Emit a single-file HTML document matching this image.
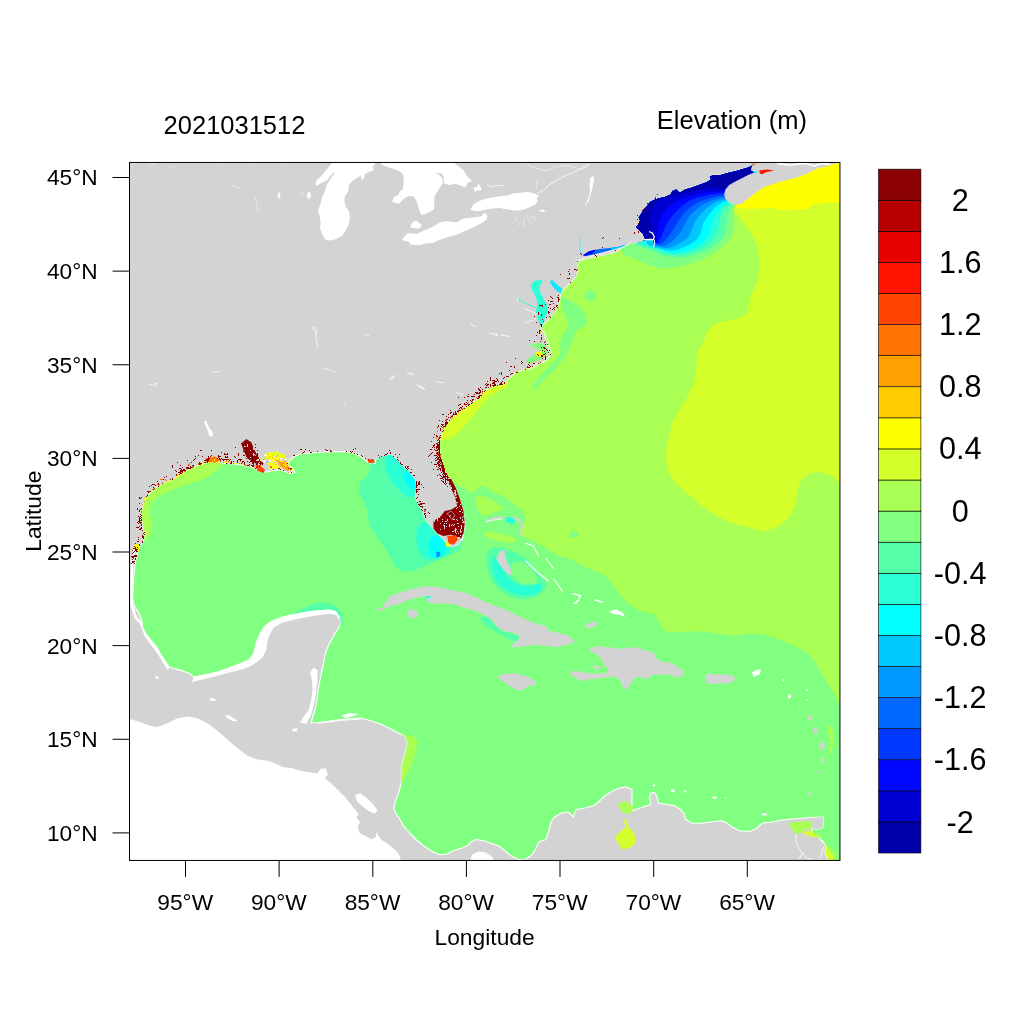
<!DOCTYPE html>
<html><head><meta charset="utf-8"><title>Elevation (m) 2021031512</title>
<style>
html,body{margin:0;padding:0;background:#fff;}
svg{display:block;will-change:transform;}
text{font-family:"Liberation Sans",Arial,Helvetica,sans-serif;fill:#000;}
</style></head>
<body>
<svg width="1024" height="1024" viewBox="0 0 1024 1024">
<rect width="1024" height="1024" fill="#fff"/>
<defs>
<clipPath id="plot"><rect x="129.5" y="162.45" width="710.45" height="698.0"/></clipPath>
<clipPath id="oc"><path d="M138.75,547.25 L143.75,541 L145,533.5 L142.5,523.5 L141.25,513.5 L143.75,503.5 L147.5,496 L153.75,489.75 L161.25,484.75 L170,481 L178.75,476.5 L186.25,471 L195,466.5 L205,463.5 L215,462.25 L225,463.5 L235,464 L245,465.5 L252.5,467.25 L258.75,471 L265,472.25 L270,471 L280,469.75 L290,473.5 L295,472.25 L292.5,468.5 L287.5,464.75 L290,459.75 L295,456 L300,454 L310,453 L320,452.25 L330,451.75 L340,451.5 L350,452.25 L357.5,454.75 L363.75,458.5 L367.5,462.25 L376,464 L376,459.75 L383.5,456 L391,454.75 L398.5,461 L403.5,467.25 L409.75,472.25 L414.75,479.75 L416,488.5 L414.75,496 L417.25,503.5 L422.25,511 L424.75,518.5 L428.5,523.5 L432.25,528.5 L436,533.5 L441,537.25 L446,543.5 L451,547.25 L458.5,544.75 L462.25,539.75 L463.5,533.5 L464.75,523.5 L463.5,513.5 L461,503.5 L457.25,493.5 L453.5,486 L451.88,485 L448.75,477.5 L445,470 L442.5,462.5 L440.62,455 L440,447.5 L440.25,440 L441.88,433.75 L445,427.5 L448.75,421.88 L453.75,416.88 L460,411.88 L466.25,407.5 L472.5,403.12 L478.75,398.75 L482.5,394.38 L486.25,390 L492.5,386.88 L500,385 L505,384.38 L506.25,381.88 L510,377.5 L516.25,373.12 L522.5,370.62 L528.75,368.75 L533.75,366.25 L540,363.12 L545,361.25 L551,355 L548.5,347.5 L546,340 L543.5,331.25 L541,327.5 L548.5,320 L556,311.25 L559.75,302.5 L561,293.75 L564.75,288.75 L569.75,283.75 L576,277.5 L578.5,270 L577.25,262.5 L583.5,260 L593.5,257.5 L606,255 L616,252.5 L626,245 L625,245.45 L633.2,243.68 L640.04,242.31 L645.51,239.98 L642.77,233.83 L638.67,229.73 L635.94,226.99 L638.67,224.26 L640.04,220.16 L638.67,217.42 L641.41,213.32 L644.14,209.22 L647.56,205.12 L650.29,201.7 L654.4,199.65 L659.18,198.28 L664.65,196.92 L670.12,194.86 L672.85,190.76 L676.27,189.4 L679.69,192.81 L685.16,189.4 L690.63,188.03 L696.1,185.98 L701.57,183.93 L707.03,181.88 L711.14,179.14 L709.77,176.41 L713.87,175.04 L720.71,175.04 L727.54,172.99 L734.38,171.62 L741.22,169.57 L748.05,167.52 L752.15,165.47 L755.57,160 L842.95,159.45 L842.95,863.45 L828,864 L827.8,858.8 L825.1,852.9 L825.9,845.9 L822.3,840.8 L823.25,842 L818.25,837 L812,832 L812,828.25 L817,829.5 L823.25,827 L823.25,817 L812,817.5 L802,818.25 L792,819 L782,820 L772,822 L762,823.25 L757,828.25 L749.5,831.5 L739.5,830.75 L732,827 L727,823.25 L722,820.75 L714.5,821.5 L702,823.25 L692,823.25 L685.75,819.5 L684.5,814.5 L680.75,809.5 L674.5,805.75 L667,804.5 L658.25,803.25 L657,797 L654.5,792.5 L650.75,793.25 L649.5,797 L650.75,804.5 L647,805.75 L639.5,808.25 L632,810.75 L632,789.5 L626,787 L618.5,788.25 L611,792 L603.5,797 L598.5,802 L593.5,805.75 L583.5,808.25 L576,809.5 L573.5,817 L568.5,812 L561,813.25 L554.75,817 L551,822 L548.5,832 L546,839.5 L538.5,842 L536,848.25 L532.25,854.5 L526,859 L518.5,859.5 L511,855.75 L504.75,850.75 L498.5,845.75 L491,843.25 L483.5,840.75 L476,839.5 L471,842 L467.25,845.75 L461,848.25 L453.5,850.75 L446,854.5 L438.5,854.5 L431,850.75 L423.5,845.75 L416,839.5 L409.75,833.25 L403.5,825.75 L398.5,817 L397.5,816.25 L393.75,808.75 L395,802.5 L398.75,792.5 L401.25,782.5 L401.25,772.5 L402.5,762.5 L405.5,752.5 L407.5,742.5 L405,736.25 L397.5,732.5 L390,728.75 L380,723.75 L370,720.5 L360,718 L350,718.75 L340,719.5 L327.5,721.25 L317.5,722.5 L311.25,723 L312.5,717.5 L315,710 L317,700 L318,690 L320,680 L322,670 L323.75,662.5 L325,655 L327.5,647.5 L331.25,640 L335,633.75 L338.75,627.5 L341.25,622.5 L340,617.5 L336.25,611.25 L330,609.5 L320,610 L307.5,611.25 L295,613.75 L282.5,617 L271.25,621.25 L263.75,627.5 L258.75,636.25 L255.5,645 L253.75,653.75 L248.75,660 L240,663.75 L230,667.5 L220,671.25 L210,673.75 L200,675.75 L193.7,677.1 L189.4,673.2 L183,671.1 L175.5,668.9 L169,666.8 L164.7,660.3 L160.4,653.9 L157.2,647.5 L151.8,641 L146.5,634.6 L142.6,628.1 L141.7,619.5 L139,613.1 L134.7,606.7 L132.7,598.1 L133.2,587.3 L134,574.5 L135.3,561.6 L137.9,550.8Z"/></clipPath>
</defs>
<rect x="129.5" y="162.45" width="710.45" height="698.0" fill="#D3D3D3"/>
<g clip-path="url(#plot)">
<g id="water-bg">
<path d="M127.5,718.25 L140,722 L150,725.75 L157.5,727 L167.5,723.25 L177.5,718.25 L187.5,716.5 L197.5,718.25 L207.5,723.25 L217.5,730.75 L227.5,739.5 L237.5,748.25 L247.5,755.75 L257.5,759.5 L267.5,760.75 L275,763.25 L282.5,767 L292.5,768.25 L300,770.75 L307.5,772 L317.5,773.25 L320,769.5 L325,769.5 L327.5,774.5 L325,778.25 L332.5,784.5 L340,792 L345,797 L350,803.25 L355,809.5 L358.75,814.5 L356.25,817 L360,822 L357.5,827 L360,833.25 L367.5,837 L371.25,839.5 L376,837 L376,832 L381,839.5 L388.5,844.5 L396,850.75 L399.75,855.75 L401,862 L126.5,863.45Z" fill="#FFFFFF" />
<path d="M469.75,861.5 L472.25,854.5 L478.5,851.5 L486,852.5 L492.25,857 L494.75,861.5Z" fill="#FFFFFF" />
<path d="M355,795 L360,793.25 L366.25,797.5 L372.5,803.75 L377.5,810 L375,813.75 L368.75,811.25 L362.5,806.25 L357,801.25Z" fill="#FFFFFF" />
<path d="M225,714.5 L230,715.75 L237.5,720.75 L233.75,721.5 L227.5,718.25Z" fill="#FFFFFF" />
<path d="M208.75,698.75 L213.75,698 L216.25,700.75 L211.25,701Z" fill="#FFFFFF" />
<path d="M292.5,729 L297,728 L297.5,731 L293,732Z" fill="#FFFFFF" />
<path d="M155,675.75 L158,676.5 L158.75,679.5 L155.75,678.5Z" fill="#FFFFFF" />
<path d="M320,769 L325.5,768.25 L328,774.5 L324.5,777 L321.25,773.25Z" fill="#FFFFFF" />
<path d="M333.44,161.25 L328.75,167.03 L324.84,171.72 L320.94,176.41 L317.03,179.53 L315.47,184.22 L317.03,185.78 L321.72,182.66 L327.19,180.31 L328.75,177.97 L331.88,174.06 L335,171.72 L333.44,174.84 L329.53,180.31 L326.41,185.78 L324.84,191.25 L322.5,195.94 L320.94,202.19 L319.38,206.88 L317.81,210.78 L319.69,216.25 L320.62,222.5 L320.16,228.75 L322.5,235 L325.62,239.69 L330.31,240.47 L336.56,238.91 L342.03,235.78 L345.94,230.31 L349.06,224.06 L349.84,217.81 L349.06,211.56 L345.94,206.88 L344.38,202.19 L344.69,196.72 L348.28,191.25 L349.06,185 L352.19,181.09 L356.88,177.97 L360.78,175.62 L361.56,179.53 L363.91,178.75 L364.69,174.06 L369.38,171.72 L374.06,170.16 L372.5,167.03 L374.84,163.91 L378.75,161.25Z" fill="#FFFFFF" />
<path d="M378.75,161.25 L383.44,165.47 L389.69,167.81 L397.5,170.16 L402.19,173.28 L403.75,176.41 L403.44,183.44 L402.97,188.91 L399.84,191.25 L398.28,195.16 L394.38,196.72 L392.03,201.41 L395.16,202.97 L399.06,203.44 L402.19,200.62 L405.31,197.5 L410,195.94 L413.91,196.72 L416.25,200.62 L417.81,205.31 L419.38,210.78 L421.25,215 L425.62,213.91 L430.31,211.56 L434.22,209.22 L434.22,203.75 L434.22,197.5 L436.56,192.81 L439.69,188.12 L442.81,183.44 L442.03,177.97 L438.12,174.06 L435,172.5 L441.25,173.28 L444.38,177.19 L447.5,180.31 L449.06,185 L453.75,183.44 L460,185 L464.69,187.34 L466.25,183.44 L471.88,181.09 L470,178.75 L466.25,175.62 L463.91,170.94 L460,167.81 L456.09,164.69 L453.75,161.25Z" fill="#FFFFFF" />
<path d="M450,161.25 L454.69,163.91 L459.38,167.03 L464.06,170.94 L466.41,175.62 L468.75,178.75 L471.88,181.09 L467.97,181.88 L465.62,187.34 L459.38,185 L454.69,183.44 L450,185 L443.75,183.44 L443.75,161.25Z" fill="#FFFFFF" />
<path d="M413.12,221.72 L416.25,220.62 L419.38,223.28 L421.72,224.84 L420.16,227.97 L417.81,228.44 L413.12,227.97 L410,227.19 L411.56,224.06Z" fill="#FFFFFF" />
<path d="M473.44,188.12 L477.34,186.56 L478.91,182.66 L479.69,186.56 L482.03,188.12 L480.47,190.47 L476.56,190.47 L475,192.03Z" fill="#FFFFFF" />
<path d="M402.19,238.91 L406.09,235 L408.44,232.66 L410,233.44 L417.81,233.44 L422.5,231.09 L428.75,228.75 L435,225.62 L439.69,222.5 L445.94,221.25 L456.88,222.19 L463.12,218.59 L470,218.12 L470,218.12 L476.56,217.03 L481.25,216.25 L483.59,213.12 L486.72,213.91 L487.5,217.03 L485.94,220.16 L481.25,223.28 L475,226.41 L468.75,229.53 L462.5,231.88 L456.25,234.69 L450,236.56 L447.5,237.34 L439.69,239.69 L433.44,242.81 L425.62,243.59 L419.38,245.16 L410,244.38 L409.22,242.03 L403.75,240.47Z" fill="#FFFFFF" />
<path d="M470.31,209.22 L473.44,204.53 L478.12,201.41 L484.38,199.06 L492.19,197.5 L500,196.25 L507.81,195.62 L512.5,193.59 L520.31,192.81 L528.12,192.03 L534.38,193.59 L539.06,195.94 L536.72,198.28 L537.5,201.41 L535.16,204.53 L529.69,206.88 L525,209.22 L518.75,210.78 L512.5,210.31 L506.25,209.22 L500,208.12 L492.19,208.44 L484.38,210 L478.12,211.25 L473.44,210.78Z" fill="#FFFFFF" />
<path d="M537.5,193.59 L543.75,189.69 L550,184.22 L557.81,179.53 L565.62,175.62 L573.44,172.5 L579.69,169.38 L585.94,167.03 L589.06,164.38" fill="none" stroke="#FFFFFF" stroke-width="0.8" stroke-linecap="round" stroke-linejoin="round" />
<path d="M526.56,163.12 L531.25,167.03 L537.5,168.59 L545.31,170.62 L551.56,168.59 L559.38,166.25 L565.62,165.47 L573.44,167.03 L579.69,169.38 L584.38,165.47 L589.06,164.38" fill="none" stroke="#FFFFFF" stroke-width="0.55" stroke-linecap="round" stroke-linejoin="round" />
<path d="M590.62,177.5 L594.06,176.25 L593.44,183.44 L591.88,189.69 L590.31,195.62 L588.75,200.94 L584.38,206.56 L587.5,200.62 L589.38,195.16 L590,188.91 L589.53,183.44Z" fill="#FFFFFF" />
<path d="M539.06,210 L542.97,209.69 L546.09,211.25 L542.19,211.88Z" fill="#FFFFFF" />
<path d="M516.41,217.81 L515.31,221.25" fill="none" stroke="#FFFFFF" stroke-width="0.45" stroke-linecap="round" stroke-linejoin="round" />
<path d="M520.31,221.72 L518.44,225.62" fill="none" stroke="#FFFFFF" stroke-width="0.45" stroke-linecap="round" stroke-linejoin="round" />
<path d="M523.44,218.12 L524.38,225.94" fill="none" stroke="#FFFFFF" stroke-width="0.45" stroke-linecap="round" stroke-linejoin="round" />
<path d="M526.88,216.56 L531.25,224.84" fill="none" stroke="#FFFFFF" stroke-width="0.45" stroke-linecap="round" stroke-linejoin="round" />
<path d="M531.25,216.25 L532.81,219.06" fill="none" stroke="#FFFFFF" stroke-width="0.45" stroke-linecap="round" stroke-linejoin="round" />
<path d="M533.59,216.25 L535.94,219.06" fill="none" stroke="#FFFFFF" stroke-width="0.45" stroke-linecap="round" stroke-linejoin="round" />
<path d="M487.5,185 L492.19,186.88 L496.88,185.31 L503.12,185.78" fill="none" stroke="#FFFFFF" stroke-width="0.7" stroke-linecap="round" stroke-linejoin="round" />
<path d="M535.16,183.44 L538.28,181.09 L535.94,185 L536.72,188.12" fill="none" stroke="#FFFFFF" stroke-width="0.5" stroke-linecap="round" stroke-linejoin="round" />
<path d="M311.25,327.5 L315,330 L316.25,338.75 L317.5,346.25" fill="none" stroke="#FFFFFF" stroke-width="0.7" stroke-linecap="round" stroke-linejoin="round" />
<path d="M312.5,327 L317.5,328.75 L316.25,335" fill="none" stroke="#FFFFFF" stroke-width="0.5" stroke-linecap="round" stroke-linejoin="round" />
<path d="M322.5,368.25 L330,369.5 L336.25,372.5" fill="none" stroke="#FFFFFF" stroke-width="0.6" stroke-linecap="round" stroke-linejoin="round" />
<path d="M231.25,185 L236.25,186.5 L239.5,188.5" fill="none" stroke="#FFFFFF" stroke-width="0.5" stroke-linecap="round" stroke-linejoin="round" />
<path d="M255,197.5 L257,205 L258,212.5" fill="none" stroke="#FFFFFF" stroke-width="0.45" stroke-linecap="round" stroke-linejoin="round" />
<path d="M213,372 L218.75,371.5" fill="none" stroke="#FFFFFF" stroke-width="0.8" stroke-linecap="round" stroke-linejoin="round" />
<path d="M148.75,383.75 L152.5,385.5 L156.25,383 L156.25,386.25" fill="none" stroke="#FFFFFF" stroke-width="0.8" stroke-linecap="round" stroke-linejoin="round" />
<path d="M365,334.5 L368.75,335.5" fill="none" stroke="#FFFFFF" stroke-width="0.8" stroke-linecap="round" stroke-linejoin="round" />
<path d="M278,193 L280,198" fill="none" stroke="#FFFFFF" stroke-width="0.7" stroke-linecap="round" stroke-linejoin="round" />
<path d="M348.75,392 L350,390.5" fill="none" stroke="#FFFFFF" stroke-width="0.5" stroke-linecap="round" stroke-linejoin="round" />
<path d="M344.25,401.25 L345.5,405" fill="none" stroke="#FFFFFF" stroke-width="0.5" stroke-linecap="round" stroke-linejoin="round" />
<path d="M307,193 L310,192 L311.25,196.25 L308.75,199.5 L307,197Z" fill="#FFFFFF" />
<path d="M470.5,324 L476,327" fill="none" stroke="#FFFFFF" stroke-width="0.8" stroke-linecap="round" stroke-linejoin="round" />
<path d="M489.75,333 L497.25,335.5 L496,333" fill="none" stroke="#FFFFFF" stroke-width="0.9" stroke-linecap="round" stroke-linejoin="round" />
<path d="M501,335 L509.75,336.5" fill="none" stroke="#FFFFFF" stroke-width="0.8" stroke-linecap="round" stroke-linejoin="round" />
<path d="M389.75,378.75 L394.75,375.5 L391.5,380" fill="none" stroke="#FFFFFF" stroke-width="0.9" stroke-linecap="round" stroke-linejoin="round" />
<path d="M407.25,373 L413.5,375 L411,372.5" fill="none" stroke="#FFFFFF" stroke-width="0.8" stroke-linecap="round" stroke-linejoin="round" />
<path d="M417.25,384.5 L424.75,389.5 L418.5,386.25" fill="none" stroke="#FFFFFF" stroke-width="0.9" stroke-linecap="round" stroke-linejoin="round" />
<path d="M437.25,382 L443.5,382.75" fill="none" stroke="#FFFFFF" stroke-width="0.8" stroke-linecap="round" stroke-linejoin="round" />
<path d="M456,392.5 L463.5,394.5" fill="none" stroke="#FFFFFF" stroke-width="0.7" stroke-linecap="round" stroke-linejoin="round" />
<path d="M203.75,421.5 L206.25,421 L209.5,428.5 L212.5,431.5 L213,436.5 L209,436 L208,431Z" fill="#FFFFFF" />
<rect x="139.74" y="169.81" width="0.78" height="0.78" fill="#fff" opacity="0.8"/>
<rect x="143.65" y="178.60" width="0.78" height="0.59" fill="#fff" opacity="0.8"/>
<rect x="141.70" y="189.34" width="0.98" height="0.78" fill="#fff" opacity="0.8"/>
<rect x="146.58" y="185.05" width="0.78" height="0.78" fill="#fff" opacity="0.8"/>
<rect x="173.92" y="166.88" width="1.17" height="0.59" fill="#fff" opacity="0.8"/>
<rect x="187.59" y="172.74" width="0.78" height="0.78" fill="#fff" opacity="0.8"/>
<rect x="199.31" y="190.32" width="1.17" height="0.98" fill="#fff" opacity="0.8"/>
<rect x="180.76" y="201.06" width="0.98" height="0.59" fill="#fff" opacity="0.8"/>
<rect x="182.71" y="207.90" width="0.59" height="0.98" fill="#fff" opacity="0.8"/>
<rect x="212.98" y="178.60" width="0.78" height="0.78" fill="#fff" opacity="0.8"/>
<rect x="257.91" y="172.74" width="1.17" height="0.98" fill="#fff" opacity="0.8"/>
<rect x="281.34" y="163.95" width="1.56" height="0.78" fill="#fff" opacity="0.8"/>
<rect x="296.97" y="200.09" width="1.56" height="0.59" fill="#fff" opacity="0.8"/>
<rect x="290.13" y="212.78" width="1.37" height="0.98" fill="#fff" opacity="0.8"/>
<rect x="298.92" y="217.66" width="0.98" height="0.78" fill="#fff" opacity="0.8"/>
<rect x="306.73" y="223.52" width="0.98" height="0.59" fill="#fff" opacity="0.8"/>
<rect x="313.57" y="226.45" width="0.98" height="0.59" fill="#fff" opacity="0.8"/>
<rect x="221.77" y="164.34" width="0.78" height="0.59" fill="#fff" opacity="0.8"/>
<rect x="249.12" y="166.30" width="0.78" height="0.59" fill="#fff" opacity="0.8"/>
<path d="M150.48,165.52 L154.78,163.17" fill="none" stroke="#FFFFFF" stroke-width="0.5" stroke-linecap="round" stroke-linejoin="round" />
<path d="M278.41,193.25 L280.37,192.27 L279.78,195.59 L280.56,198.72 L278.61,198.33 L277.83,195.59Z" fill="#FFFFFF" />
<path d="M299.31,193.25 L303.8,193.64 L305.76,195.59" fill="none" stroke="#FFFFFF" stroke-width="0.4" stroke-linecap="round" stroke-linejoin="round" />
<path d="M200,675.75 L210,673.75 L220,671.25 L230,667.5 L240,663.75 L248.75,660 L253.75,653.75 L255.5,645 L258.75,636.25 L263.75,627.5 L271.25,621.25 L282.5,617 L295,613.75 L307.5,611.25 L320,610 L330,609.5 L336.25,611.25 L340,617.5 L338.75,620 L336.25,615 L330,613.75 L320,615 L307.5,617 L295,619.5 L282.5,622.5 L273.75,627.5 L270,633.75 L267.5,641.25 L266.25,650 L262.5,657.5 L256.25,662.5 L250,666.25 L243.75,668.75 L237.5,670.5 L225,673.75 L212.5,677 L200,680 L192,682 L193.7,677.1Z" fill="#FFFFFF" />
<path d="M310,672.5 L313.75,667.5 L317.5,670 L317.5,680 L316.25,690 L315,700 L312.5,710 L310,717.5 L306.25,723.75 L300,722.5 L303.75,716.25 L308.75,710 L311.25,700 L312.5,690 L312,680Z" fill="#FFFFFF" />
<path d="M134.5,549 L132,566 L131.6,587 L131.6,604.5 L135.7,617.4 L141,623 L146,636 L158,652 L168,668" fill="none" stroke="#FFFFFF" stroke-width="2.6" stroke-linecap="round" stroke-linejoin="round" />
<path d="M317.5,723.5 L327.5,722.25 L340,720.5 L350,719.75 L360,719" fill="none" stroke="#FFFFFF" stroke-width="1.0" stroke-linecap="round" stroke-linejoin="round" />
</g>
<path d="M138.75,547.25 L143.75,541 L145,533.5 L142.5,523.5 L141.25,513.5 L143.75,503.5 L147.5,496 L153.75,489.75 L161.25,484.75 L170,481 L178.75,476.5 L186.25,471 L195,466.5 L205,463.5 L215,462.25 L225,463.5 L235,464 L245,465.5 L252.5,467.25 L258.75,471 L265,472.25 L270,471 L280,469.75 L290,473.5 L295,472.25 L292.5,468.5 L287.5,464.75 L290,459.75 L295,456 L300,454 L310,453 L320,452.25 L330,451.75 L340,451.5 L350,452.25 L357.5,454.75 L363.75,458.5 L367.5,462.25 L376,464 L376,459.75 L383.5,456 L391,454.75 L398.5,461 L403.5,467.25 L409.75,472.25 L414.75,479.75 L416,488.5 L414.75,496 L417.25,503.5 L422.25,511 L424.75,518.5 L428.5,523.5 L432.25,528.5 L436,533.5 L441,537.25 L446,543.5 L451,547.25 L458.5,544.75 L462.25,539.75 L463.5,533.5 L464.75,523.5 L463.5,513.5 L461,503.5 L457.25,493.5 L453.5,486 L451.88,485 L448.75,477.5 L445,470 L442.5,462.5 L440.62,455 L440,447.5 L440.25,440 L441.88,433.75 L445,427.5 L448.75,421.88 L453.75,416.88 L460,411.88 L466.25,407.5 L472.5,403.12 L478.75,398.75 L482.5,394.38 L486.25,390 L492.5,386.88 L500,385 L505,384.38 L506.25,381.88 L510,377.5 L516.25,373.12 L522.5,370.62 L528.75,368.75 L533.75,366.25 L540,363.12 L545,361.25 L551,355 L548.5,347.5 L546,340 L543.5,331.25 L541,327.5 L548.5,320 L556,311.25 L559.75,302.5 L561,293.75 L564.75,288.75 L569.75,283.75 L576,277.5 L578.5,270 L577.25,262.5 L583.5,260 L593.5,257.5 L606,255 L616,252.5 L626,245 L625,245.45 L633.2,243.68 L640.04,242.31 L645.51,239.98 L642.77,233.83 L638.67,229.73 L635.94,226.99 L638.67,224.26 L640.04,220.16 L638.67,217.42 L641.41,213.32 L644.14,209.22 L647.56,205.12 L650.29,201.7 L654.4,199.65 L659.18,198.28 L664.65,196.92 L670.12,194.86 L672.85,190.76 L676.27,189.4 L679.69,192.81 L685.16,189.4 L690.63,188.03 L696.1,185.98 L701.57,183.93 L707.03,181.88 L711.14,179.14 L709.77,176.41 L713.87,175.04 L720.71,175.04 L727.54,172.99 L734.38,171.62 L741.22,169.57 L748.05,167.52 L752.15,165.47 L755.57,160 L842.95,159.45 L842.95,863.45 L828,864 L827.8,858.8 L825.1,852.9 L825.9,845.9 L822.3,840.8 L823.25,842 L818.25,837 L812,832 L812,828.25 L817,829.5 L823.25,827 L823.25,817 L812,817.5 L802,818.25 L792,819 L782,820 L772,822 L762,823.25 L757,828.25 L749.5,831.5 L739.5,830.75 L732,827 L727,823.25 L722,820.75 L714.5,821.5 L702,823.25 L692,823.25 L685.75,819.5 L684.5,814.5 L680.75,809.5 L674.5,805.75 L667,804.5 L658.25,803.25 L657,797 L654.5,792.5 L650.75,793.25 L649.5,797 L650.75,804.5 L647,805.75 L639.5,808.25 L632,810.75 L632,789.5 L626,787 L618.5,788.25 L611,792 L603.5,797 L598.5,802 L593.5,805.75 L583.5,808.25 L576,809.5 L573.5,817 L568.5,812 L561,813.25 L554.75,817 L551,822 L548.5,832 L546,839.5 L538.5,842 L536,848.25 L532.25,854.5 L526,859 L518.5,859.5 L511,855.75 L504.75,850.75 L498.5,845.75 L491,843.25 L483.5,840.75 L476,839.5 L471,842 L467.25,845.75 L461,848.25 L453.5,850.75 L446,854.5 L438.5,854.5 L431,850.75 L423.5,845.75 L416,839.5 L409.75,833.25 L403.5,825.75 L398.5,817 L397.5,816.25 L393.75,808.75 L395,802.5 L398.75,792.5 L401.25,782.5 L401.25,772.5 L402.5,762.5 L405.5,752.5 L407.5,742.5 L405,736.25 L397.5,732.5 L390,728.75 L380,723.75 L370,720.5 L360,718 L350,718.75 L340,719.5 L327.5,721.25 L317.5,722.5 L311.25,723 L312.5,717.5 L315,710 L317,700 L318,690 L320,680 L322,670 L323.75,662.5 L325,655 L327.5,647.5 L331.25,640 L335,633.75 L338.75,627.5 L341.25,622.5 L340,617.5 L336.25,611.25 L330,609.5 L320,610 L307.5,611.25 L295,613.75 L282.5,617 L271.25,621.25 L263.75,627.5 L258.75,636.25 L255.5,645 L253.75,653.75 L248.75,660 L240,663.75 L230,667.5 L220,671.25 L210,673.75 L200,675.75 L193.7,677.1 L189.4,673.2 L183,671.1 L175.5,668.9 L169,666.8 L164.7,660.3 L160.4,653.9 L157.2,647.5 L151.8,641 L146.5,634.6 L142.6,628.1 L141.7,619.5 L139,613.1 L134.7,606.7 L132.7,598.1 L133.2,587.3 L134,574.5 L135.3,561.6 L137.9,550.8Z" fill="#80FF80" stroke="#fff" stroke-width="1.1" stroke-linejoin="round"/>
<g clip-path="url(#oc)" id="ocean-colours">
<path d="M843.25,704.5 L843.02,704.5 L842.55,704.5 L841.84,704.5 L840.91,704.5 L840.05,704.19 L839.27,703.56 L838.56,702.62 L837.94,701.38 L837.23,699.97 L836.45,698.41 L835.59,696.69 L834.66,694.81 L833.64,692.94 L832.55,691.06 L831.38,689.19 L830.12,687.31 L828.8,685.28 L827.39,683.09 L825.91,680.75 L824.34,678.25 L822.94,675.91 L821.69,673.72 L820.59,671.69 L819.66,669.81 L818.56,667.8 L817.31,665.64 L815.91,663.34 L814.34,660.91 L812.7,658.69 L810.98,656.69 L809.19,654.91 L807.31,653.34 L805.12,651.78 L802.62,650.22 L799.81,648.66 L796.69,647.09 L793.56,645.61 L790.44,644.2 L787.31,642.88 L784.19,641.62 L781.06,640.38 L777.94,639.12 L774.81,637.88 L771.69,636.62 L768.41,635.61 L764.97,634.83 L761.38,634.28 L757.62,633.97 L754.03,633.81 L750.59,633.81 L747.31,633.97 L744.19,634.28 L741.22,634.59 L738.41,634.91 L735.75,635.22 L733.25,635.53 L730.75,635.61 L728.25,635.45 L725.75,635.06 L723.25,634.44 L720.59,633.89 L717.78,633.42 L714.81,633.03 L711.69,632.72 L708.41,632.41 L704.97,632.09 L701.38,631.78 L697.62,631.47 L694.19,631.31 L691.06,631.31 L688.25,631.47 L685.75,631.78 L683.25,632.02 L680.75,632.17 L678.25,632.25 L675.75,632.25 L673.33,632.17 L670.98,632.02 L668.72,631.78 L666.53,631.47 L664.66,630.69 L663.09,629.44 L661.84,627.72 L660.91,625.53 L659.97,623.42 L659.03,621.39 L658.09,619.44 L657.16,617.56 L655.91,616 L654.34,614.75 L652.47,613.81 L650.28,613.19 L648.17,612.64 L646.14,612.17 L644.19,611.78 L642.31,611.47 L640.44,610.92 L638.56,610.14 L636.69,609.12 L634.81,607.88 L633.03,606.62 L631.34,605.38 L629.75,604.12 L628.25,602.88 L626.73,601.55 L625.2,600.14 L623.66,598.66 L622.09,597.09 L620.53,595.38 L618.97,593.5 L617.41,591.47 L615.84,589.28 L614.36,587.17 L612.95,585.14 L611.62,583.19 L610.38,581.31 L608.97,579.59 L607.41,578.03 L605.69,576.62 L603.81,575.38 L601.78,574.2 L599.59,573.11 L597.25,572.09 L594.75,571.16 L592.25,570.14 L589.75,569.05 L587.25,567.88 L584.75,566.62 L582.25,565.3 L579.75,563.89 L577.25,562.41 L574.75,560.84 L572.09,559.52 L569.28,558.42 L566.31,557.56 L563.19,556.94 L560.22,556.08 L557.41,554.98 L554.75,553.66 L552.25,552.09 L549.75,550.53 L547.25,548.97 L544.75,547.41 L542.25,545.84 L539.75,544.36 L537.25,542.95 L534.75,541.62 L532.25,540.38 L529.91,539.28 L527.72,538.34 L525.69,537.56 L523.81,536.94 L522.33,536 L521.23,534.75 L520.53,533.19 L520.22,531.31 L520.22,529.59 L520.53,528.03 L521.16,526.62 L522.09,525.38 L522.95,524.12 L523.73,522.88 L524.44,521.62 L525.06,520.38 L525.38,518.97 L525.38,517.41 L525.06,515.69 L524.44,513.81 L523.5,512.09 L522.25,510.53 L520.69,509.12 L518.81,507.88 L516.78,506.39 L514.59,504.67 L512.25,502.72 L509.75,500.53 L507.25,498.66 L504.75,497.09 L502.25,495.84 L499.75,494.91 L497.25,493.81 L494.75,492.56 L492.25,491.16 L489.75,489.59 L487.41,488.27 L485.22,487.17 L483.19,486.31 L481.31,485.69 L479.67,485.77 L478.27,486.55 L477.09,488.03 L476.16,490.22 L475.06,491.7 L473.81,492.48 L472.41,492.56 L470.84,491.94 L469.2,491.16 L467.48,490.22 L465.69,489.12 L463.81,487.88 L461.94,486.78 L460.06,485.84 L458.19,485.06 L456.31,484.44 L454.91,483.97 L453.97,483.66 L453.5,483.5 L426,483.5 L400,330 L420,150 L842.95,159.45Z" fill="#AAFF55" />
<path d="M479.75,495.69 L482.25,496.31 L484.75,497.09 L487.25,498.03 L489.75,499.12 L492.25,500.38 L494.59,501.62 L496.78,502.88 L498.81,504.12 L500.69,505.38 L501.94,506.55 L502.56,507.64 L502.56,508.66 L501.94,509.59 L501,510.38 L499.75,511 L498.19,511.47 L496.31,511.78 L494.44,512.25 L492.56,512.88 L490.69,513.66 L488.81,514.59 L487.02,515.14 L485.3,515.3 L483.66,515.06 L482.09,514.44 L480.69,513.5 L479.44,512.25 L478.34,510.69 L477.41,508.81 L476.7,506.7 L476.23,504.36 L476,501.78 L476,498.97 L476.62,497.02 L477.88,495.92Z" fill="#AAFF55" />
<path d="M487.25,531.47 L489.75,531.78 L492.41,532.17 L495.22,532.64 L498.19,533.19 L501.31,533.81 L504.28,534.52 L507.09,535.3 L509.75,536.16 L512.25,537.09 L513.97,538.11 L514.91,539.2 L515.06,540.38 L514.44,541.62 L513.34,542.48 L511.78,542.95 L509.75,543.03 L507.25,542.72 L504.75,542.33 L502.25,541.86 L499.75,541.31 L497.25,540.69 L494.83,539.98 L492.48,539.2 L490.22,538.34 L488.03,537.41 L486.31,536.39 L485.06,535.3 L484.28,534.12 L483.97,532.88 L484.36,532.02 L485.45,531.55Z" fill="#AAFF55" />
<ellipse cx="574.0" cy="534.5" rx="4.5" ry="3.5" fill="#80FF80"/>
<path d="M562.88,296.41 L564.12,297.34 L565.53,298.28 L567.09,299.22 L568.81,300.16 L570.69,301.09 L572.56,302.11 L574.44,303.2 L576.31,304.38 L578.19,305.62 L579.91,307.03 L581.47,308.59 L582.88,310.31 L584.12,312.19 L585.14,314.06 L585.92,315.94 L586.47,317.81 L586.78,319.69 L586.78,321.41 L586.47,322.97 L585.84,324.38 L584.91,325.62 L583.73,326.72 L582.33,327.66 L580.69,328.44 L578.81,329.06 L577.25,330 L576,331.25 L575.06,332.81 L574.44,334.69 L573.73,336.72 L572.95,338.91 L572.09,341.25 L571.16,343.75 L570.14,346.25 L569.05,348.75 L567.88,351.25 L566.62,353.75 L565.3,356.09 L563.89,358.28 L562.41,360.31 L560.84,362.19 L559.2,364.06 L557.48,365.94 L555.69,367.81 L553.81,369.69 L551.86,371.64 L549.83,373.67 L547.72,375.78 L545.53,377.97 L543.5,380.08 L541.62,382.11 L539.91,384.06 L538.34,385.94 L536.86,387.5 L535.45,388.75 L534.12,389.69 L532.88,390.31 L532.09,390.31 L531.78,389.69 L531.94,388.44 L532.56,386.56 L533.5,384.61 L534.75,382.58 L536.31,380.47 L538.19,378.28 L540.06,376.17 L541.94,374.14 L543.81,372.19 L545.69,370.31 L547.56,368.44 L549.44,366.56 L551.31,364.69 L553.19,362.81 L554.91,360.94 L556.47,359.06 L557.88,357.19 L559.12,355.31 L559.98,353.28 L560.45,351.09 L560.53,348.75 L560.22,346.25 L560.14,343.91 L560.3,341.72 L560.69,339.69 L561.31,337.81 L562.17,335.94 L563.27,334.06 L564.59,332.19 L566.16,330.31 L567.25,328.44 L567.88,326.56 L568.03,324.69 L567.72,322.81 L567.25,320.94 L566.62,319.06 L565.84,317.19 L564.91,315.31 L564.05,313.44 L563.27,311.56 L562.56,309.69 L561.94,307.81 L561.47,305.78 L561.16,303.59 L561,301.25 L561,298.75 L561.31,297.11 L561.94,296.33Z" fill="#80FF80" />
<ellipse cx="590.5" cy="295.5" rx="6" ry="5.5" fill="#80FF80"/>
<path d="M732,207 L732.47,207.66 L733.41,208.97 L734.81,210.94 L736.69,213.56 L738.48,216.08 L740.2,218.48 L741.84,220.78 L743.41,222.97 L744.97,225.16 L746.53,227.34 L748.09,229.53 L749.66,231.72 L751.14,233.98 L752.55,236.33 L753.88,238.75 L755.12,241.25 L756.22,243.91 L757.16,246.72 L757.94,249.69 L758.56,252.81 L759.03,255.94 L759.34,259.06 L759.5,262.19 L759.5,265.31 L759.34,268.44 L759.03,271.56 L758.56,274.69 L757.94,277.81 L757.16,280.78 L756.22,283.59 L755.12,286.25 L753.88,288.75 L752.75,291.25 L751.75,293.75 L750.88,296.25 L750.12,298.75 L749.52,301.25 L749.05,303.75 L748.72,306.25 L748.53,308.75 L748,310.94 L747.12,312.81 L745.91,314.38 L744.34,315.62 L742.55,316.72 L740.52,317.66 L738.25,318.44 L735.75,319.06 L733.09,319.66 L730.28,320.22 L727.31,320.75 L724.19,321.25 L721.38,321.81 L718.88,322.44 L716.69,323.12 L714.81,323.88 L713.09,324.91 L711.53,326.22 L710.12,327.81 L708.88,329.69 L707.78,331.56 L706.84,333.44 L706.06,335.31 L705.44,337.19 L704.66,339.06 L703.72,340.94 L702.62,342.81 L701.38,344.69 L700.25,346.56 L699.25,348.44 L698.38,350.31 L697.62,352.19 L697.06,354.38 L696.69,356.88 L696.5,359.69 L696.5,362.81 L696.45,365.78 L696.36,368.59 L696.22,371.25 L696.03,373.75 L695.66,376.25 L695.09,378.75 L694.34,381.25 L693.41,383.75 L692.39,386.25 L691.3,388.75 L690.12,391.25 L688.88,393.75 L687.55,396.25 L686.14,398.75 L684.66,401.25 L683.09,403.75 L681.77,405.84 L680.67,407.53 L679.81,408.81 L679.19,409.69 L678.41,410.97 L677.47,412.66 L676.38,414.75 L675.12,417.25 L673.95,419.91 L672.86,422.72 L671.84,425.69 L670.91,428.81 L670.02,431.94 L669.17,435.06 L668.38,438.19 L667.62,441.31 L667.02,444.44 L666.55,447.56 L666.22,450.69 L666.03,453.81 L666.05,456.94 L666.27,460.06 L666.69,463.19 L667.31,466.31 L668.25,469.44 L669.5,472.56 L671.06,475.69 L672.94,478.81 L674.97,481.7 L677.16,484.36 L679.5,486.78 L682,488.97 L684.42,491 L686.77,492.88 L689.03,494.59 L691.22,496.16 L693.17,497.72 L694.89,499.28 L696.38,500.84 L697.62,502.41 L699.19,503.97 L701.06,505.53 L703.25,507.09 L705.75,508.66 L708.25,510.22 L710.75,511.78 L713.25,513.34 L715.75,514.91 L718.25,516.39 L720.75,517.8 L723.25,519.12 L725.75,520.38 L728.25,521.47 L730.75,522.41 L733.25,523.19 L735.75,523.81 L738.25,524.44 L740.75,525.06 L743.25,525.69 L745.75,526.31 L748.25,527.05 L750.75,527.89 L753.25,528.84 L755.75,529.91 L758.25,530.59 L760.75,530.91 L763.25,530.84 L765.75,530.41 L768.25,529.84 L770.75,529.16 L773.25,528.34 L775.75,527.41 L778.09,526.31 L780.28,525.06 L782.31,523.66 L784.19,522.09 L785.91,520.45 L787.47,518.73 L788.88,516.94 L790.12,515.06 L791.3,513.19 L792.39,511.31 L793.41,509.44 L794.34,507.56 L795.12,505.61 L795.75,503.58 L796.22,501.47 L796.53,499.28 L796.84,497.02 L797.16,494.67 L797.47,492.25 L797.78,489.75 L798.33,487.33 L799.11,484.98 L800.12,482.72 L801.38,480.53 L802.78,478.62 L804.34,477 L806.06,475.66 L807.94,474.59 L809.89,473.7 L811.92,472.98 L814.03,472.44 L816.22,472.06 L818.41,471.94 L820.59,472.06 L822.78,472.44 L824.97,473.06 L827,473.81 L828.88,474.69 L830.59,475.69 L832.16,476.81 L833.64,477.97 L835.05,479.16 L836.38,480.38 L837.62,481.62 L838.88,482.72 L840.12,483.66 L841.38,484.44 L842.62,485.06 L843.56,485.53 L844.19,485.84 L844.5,486 L842.95,159.45Z" fill="#D5FF2A" />
<path d="M438.75,439.38 L448.75,439.38 L455,435 L461.25,430 L467.5,422.5 L473.75,415 L478.75,408.75 L483.75,402.5 L488.75,397.5 L495,392.5 L501.25,389.38 L507.5,386.88 L506.25,378.75 L432.5,422.5Z" fill="#D5FF2A" />
<path d="M827,727 L830.75,725.75 L834,734.5 L833.25,744.5 L830.75,753.25 L828.25,755.75 L829.5,747 L829.5,737Z" fill="#AAFF55" />
<path d="M732,207 L744.5,208.75 L757,208.75 L772,207.5 L782,210 L794.5,209.5 L807,208.75 L812,205 L822,203 L843.25,202 L843.25,157.5 L762,157.5Z" fill="#FFFF00" />
<path d="M623.63,254.34 L624.23,254.6 L625.42,255.11 L627.22,255.88 L629.61,256.9 L632,257.93 L634.4,258.95 L636.79,259.98 L639.18,261 L641.57,262.03 L643.97,263.05 L646.36,264.08 L648.75,265.1 L651.23,266 L653.79,266.77 L656.44,267.41 L659.18,267.93 L661.91,268.27 L664.65,268.44 L667.38,268.44 L670.12,268.27 L672.85,267.97 L675.59,267.54 L678.32,266.99 L681.06,266.3 L683.88,265.54 L686.78,264.68 L689.77,263.74 L692.85,262.72 L695.92,261.61 L699,260.41 L702.08,259.13 L705.15,257.76 L708.15,256.31 L711.05,254.77 L713.87,253.15 L716.61,251.44 L719.17,249.64 L721.56,247.76 L723.78,245.8 L725.84,243.75 L727.63,241.69 L729.17,239.64 L730.45,237.59 L731.47,235.54 L732.33,233.49 L733.01,231.44 L733.52,229.38 L733.87,227.34 L734.08,225.29 L734.17,223.23 L734.12,221.18 L733.96,219.13 L733.78,217.17 L733.61,215.29 L733.44,213.5 L733.27,211.78 L733.31,210.29 L733.57,209.01 L734.04,207.94 L734.72,207.08 L735.24,206.44 L735.58,206.01 L735.75,205.8 L738.48,196.23 L763.77,171.62 L763.77,154.53 L616.8,154.53 L616.8,236.57Z" fill="#80FF80" />
<path d="M642.77,247.5 L643.37,247.71 L644.56,248.14 L646.36,248.78 L648.75,249.64 L651.14,250.58 L653.54,251.6 L655.93,252.72 L658.33,253.91 L660.76,254.91 L663.24,255.72 L665.76,256.32 L668.33,256.74 L670.97,257.07 L673.71,257.32 L676.53,257.5 L679.43,257.61 L682.47,257.47 L685.63,257.09 L688.92,256.48 L692.33,255.62 L695.67,254.64 L698.91,253.53 L702.08,252.29 L705.15,250.92 L708.06,249.47 L710.8,247.93 L713.36,246.31 L715.75,244.59 L717.89,242.8 L719.77,240.92 L721.39,238.96 L722.76,236.91 L723.91,234.85 L724.85,232.81 L725.58,230.75 L726.09,228.7 L726.52,226.65 L726.86,224.6 L727.12,222.55 L727.29,220.5 L727.5,218.53 L727.75,216.65 L728.05,214.86 L728.4,213.15 L728.91,211.51 L729.59,209.94 L730.45,208.44 L731.47,207 L732.24,205.93 L732.75,205.21 L733.01,204.85 L738.48,196.23 L763.77,171.62 L763.77,154.53 L616.8,154.53 L616.8,236.57Z" fill="#55FFAA" />
<path d="M645.51,246.14 L646.11,246.31 L647.3,246.65 L649.1,247.16 L651.49,247.85 L653.8,248.61 L656.02,249.47 L658.16,250.41 L660.21,251.43 L662.26,252.33 L664.31,253.1 L666.36,253.74 L668.41,254.25 L670.63,254.64 L673.03,254.89 L675.59,255.02 L678.32,255.02 L681.14,254.81 L684.04,254.38 L687.04,253.74 L690.11,252.89 L693.11,251.91 L696.01,250.8 L698.83,249.56 L701.57,248.19 L704.13,246.74 L706.52,245.2 L708.75,243.57 L710.79,241.87 L712.59,240.07 L714.13,238.19 L715.41,236.23 L716.43,234.17 L717.29,232.12 L717.97,230.07 L718.48,228.02 L718.83,225.97 L719.17,223.92 L719.51,221.87 L719.85,219.81 L720.2,217.76 L720.71,215.8 L721.39,213.92 L722.25,212.12 L723.27,210.42 L724.43,208.89 L725.71,207.56 L727.12,206.42 L728.65,205.46 L729.81,204.75 L730.58,204.27 L730.96,204.03 L738.48,196.23 L763.77,171.62 L763.77,154.53 L616.8,154.53 L616.8,236.57Z" fill="#2AFFD5" />
<path d="M648.24,245.45 L648.75,245.58 L649.78,245.83 L651.32,246.22 L653.37,246.73 L655.42,247.33 L657.47,248.01 L659.52,248.78 L661.57,249.64 L663.5,250.41 L665.29,251.09 L666.96,251.69 L668.49,252.2 L670.29,252.54 L672.34,252.71 L674.65,252.72 L677.21,252.54 L679.82,252.2 L682.47,251.69 L685.16,251.01 L687.89,250.15 L690.54,249.17 L693.1,248.06 L695.58,246.82 L697.98,245.45 L700.2,244 L702.25,242.46 L704.13,240.84 L705.84,239.13 L707.29,237.34 L708.49,235.46 L709.43,233.49 L710.11,231.44 L710.71,229.47 L711.22,227.59 L711.65,225.8 L711.99,224.09 L712.42,222.38 L712.93,220.67 L713.53,218.97 L714.21,217.25 L715.07,215.5 L716.09,213.71 L717.29,211.87 L718.66,209.99 L720.03,208.32 L721.39,206.87 L722.76,205.63 L724.13,204.61 L725.37,203.81 L726.48,203.25 L727.46,202.92 L728.31,202.81 L728.95,202.74 L729.38,202.69 L729.59,202.66 L738.48,196.23 L763.77,171.62 L763.77,154.53 L616.8,154.53 L616.8,236.57Z" fill="#00FFFF" />
<path d="M653.03,247.5 L653.41,247.54 L654.18,247.63 L655.34,247.76 L656.87,247.93 L658.62,248.23 L660.59,248.66 L662.77,249.21 L665.16,249.9 L667.55,250.32 L669.95,250.49 L672.34,250.41 L674.73,250.06 L677.12,249.55 L679.52,248.87 L681.91,248.01 L684.3,246.99 L686.61,245.92 L688.83,244.81 L690.97,243.66 L693.02,242.46 L694.86,241.14 L696.48,239.69 L697.89,238.1 L699.09,236.4 L700.07,234.6 L700.84,232.72 L701.39,230.75 L701.74,228.7 L702.21,226.74 L702.81,224.86 L703.53,223.06 L704.39,221.35 L705.37,219.65 L706.48,217.94 L707.72,216.23 L709.09,214.52 L710.46,212.86 L711.82,211.23 L713.19,209.65 L714.56,208.11 L715.97,206.7 L717.42,205.42 L718.92,204.26 L720.45,203.24 L721.91,202.41 L723.27,201.78 L724.55,201.34 L725.75,201.1 L726.64,200.92 L727.24,200.8 L727.54,200.74 L738.48,196.23 L763.77,171.62 L763.77,154.53 L616.8,154.53 L616.8,236.57Z" fill="#00C8FF" />
<path d="M653.71,246.14 L654.09,246.18 L654.86,246.27 L656.02,246.4 L657.55,246.56 L659.09,246.82 L660.63,247.16 L662.17,247.59 L663.71,248.1 L665.38,248.31 L667.17,248.23 L669.1,247.85 L671.14,247.16 L673.2,246.39 L675.25,245.54 L677.29,244.6 L679.34,243.57 L681.31,242.46 L683.19,241.26 L684.98,239.98 L686.69,238.62 L688.15,237.17 L689.34,235.63 L690.28,234 L690.97,232.29 L691.65,230.5 L692.33,228.62 L693.02,226.66 L693.7,224.6 L694.56,222.64 L695.58,220.76 L696.78,218.97 L698.15,217.25 L699.6,215.54 L701.14,213.83 L702.76,212.12 L704.47,210.42 L706.18,208.83 L707.89,207.38 L709.6,206.06 L711.31,204.86 L713.02,203.8 L714.73,202.86 L716.44,202.04 L718.14,201.36 L719.77,200.78 L721.31,200.32 L722.76,199.97 L724.13,199.74 L725.15,199.56 L725.84,199.44 L726.18,199.38 L738.48,196.23 L763.77,171.62 L763.77,154.53 L616.8,154.53 L616.8,236.57Z" fill="#0098FF" />
<path d="M654.12,244.77 L654.44,244.81 L655.07,244.9 L656.02,245.02 L657.28,245.19 L658.49,245.41 L659.63,245.66 L660.72,245.96 L661.74,246.31 L662.94,246.31 L664.31,245.97 L665.85,245.28 L667.56,244.26 L669.27,243.1 L670.98,241.82 L672.69,240.41 L674.39,238.88 L676.02,237.3 L677.56,235.67 L679.01,234 L680.37,232.29 L681.57,230.58 L682.59,228.88 L683.45,227.16 L684.13,225.45 L684.9,223.75 L685.76,222.04 L686.7,220.33 L687.72,218.62 L688.92,216.91 L690.29,215.2 L691.83,213.5 L693.53,211.78 L695.33,210.16 L697.21,208.62 L699.18,207.17 L701.22,205.8 L703.27,204.56 L705.32,203.45 L707.38,202.47 L709.43,201.61 L711.48,200.84 L713.53,200.16 L715.58,199.56 L717.63,199.05 L719.47,198.6 L721.09,198.2 L722.5,197.87 L723.7,197.6 L724.59,197.39 L725.19,197.26 L725.49,197.19 L738.48,196.23 L763.77,171.62 L763.77,154.53 L616.8,154.53 L616.8,236.57Z" fill="#0068FF" />
<path d="M654.4,243.68 L654.61,243.71 L655.04,243.76 L655.68,243.83 L656.53,243.94 L657.34,244.06 L658.11,244.19 L658.84,244.34 L659.52,244.52 L660.38,244.3 L661.4,243.7 L662.6,242.72 L663.97,241.35 L665.34,239.9 L666.7,238.36 L668.07,236.74 L669.44,235.03 L670.72,233.32 L671.92,231.61 L673.03,229.9 L674.05,228.19 L675.08,226.48 L676.1,224.77 L677.13,223.06 L678.15,221.35 L679.26,219.65 L680.46,217.94 L681.74,216.23 L683.11,214.52 L684.56,212.86 L686.1,211.23 L687.72,209.65 L689.43,208.11 L691.22,206.66 L693.1,205.29 L695.07,204.01 L697.12,202.81 L699.26,201.75 L701.48,200.81 L703.79,199.99 L706.18,199.31 L708.49,198.67 L710.71,198.07 L712.85,197.51 L714.89,197 L716.86,196.55 L718.74,196.18 L720.53,195.87 L722.24,195.63 L723.53,195.45 L724.38,195.33 L724.81,195.27 L738.48,196.23 L763.77,171.62 L763.77,154.53 L616.8,154.53 L616.8,236.57Z" fill="#0038FF" />
<path d="M654.67,242.72 L654.87,242.76 L655.26,242.85 L655.85,242.97 L656.63,243.15 L657.43,242.85 L658.25,242.08 L659.09,240.84 L659.95,239.13 L660.8,237.34 L661.66,235.46 L662.51,233.49 L663.37,231.44 L664.26,229.39 L665.2,227.34 L666.19,225.29 L667.21,223.24 L668.32,221.27 L669.52,219.39 L670.8,217.59 L672.17,215.88 L673.54,214.26 L674.9,212.72 L676.27,211.27 L677.64,209.9 L679.09,208.53 L680.63,207.17 L682.26,205.8 L683.97,204.43 L685.76,203.15 L687.64,201.95 L689.61,200.84 L691.65,199.82 L693.79,198.89 L696.01,198.08 L698.32,197.36 L700.71,196.74 L703.1,196.18 L705.5,195.67 L707.89,195.2 L710.28,194.8 L712.72,194.42 L715.19,194.08 L717.71,193.77 L720.28,193.5 L722.2,193.29 L723.48,193.16 L724.12,193.09 L738.48,196.23 L763.77,171.62 L763.77,154.53 L616.8,154.53 L616.8,236.57Z" fill="#0008FF" />
<path d="M654.81,242.03 L654.87,242.07 L654.99,242.16 L655.17,242.29 L655.4,242.46 L655.67,242.03 L655.96,241.01 L656.27,239.39 L656.62,237.16 L656.96,234.98 L657.3,232.85 L657.64,230.75 L657.99,228.7 L658.37,226.65 L658.8,224.6 L659.27,222.55 L659.78,220.5 L660.42,218.53 L661.19,216.65 L662.09,214.86 L663.11,213.15 L664.22,211.53 L665.42,209.99 L666.7,208.54 L668.07,207.17 L669.52,205.89 L671.06,204.69 L672.69,203.58 L674.39,202.56 L676.19,201.57 L678.07,200.64 L680.03,199.74 L682.09,198.88 L684.31,198.03 L686.7,197.17 L689.26,196.32 L692,195.46 L694.73,194.69 L697.47,194.01 L700.2,193.41 L702.93,192.9 L705.66,192.47 L708.4,192.13 L711.13,191.87 L713.87,191.7 L716.33,191.56 L718.52,191.44 L720.43,191.34 L722.08,191.28 L723.31,191.22 L724.13,191.19 L724.54,191.17 L738.48,196.23 L763.77,171.62 L763.77,154.53 L616.8,154.53 L616.8,236.57Z" fill="#0000D5" />
<path d="M654.53,241.35 L654.31,240.54 L653.86,238.91 L653.2,236.48 L652.31,233.23 L651.56,230.28 L650.95,227.63 L650.47,225.29 L650.12,223.24 L649.91,221.36 L649.82,219.65 L649.87,218.11 L650.04,216.74 L650.29,215.29 L650.63,213.75 L651.06,212.12 L651.57,210.42 L652.21,208.79 L652.98,207.25 L653.88,205.8 L654.91,204.43 L656.11,203.19 L657.47,202.08 L659.01,201.1 L660.72,200.25 L662.6,199.44 L664.65,198.67 L666.87,197.94 L669.26,197.26 L671.65,196.57 L674.05,195.89 L676.44,195.21 L678.83,194.52 L681.31,193.84 L683.87,193.16 L686.52,192.47 L689.26,191.79 L691.99,191.15 L694.73,190.55 L697.46,189.99 L700.2,189.48 L702.76,188.97 L705.15,188.45 L707.38,187.94 L709.43,187.43 L711.48,187.22 L713.53,187.3 L715.58,187.69 L717.63,188.37 L719.47,188.8 L721.09,188.97 L722.5,188.89 L723.7,188.54 L724.59,188.29 L725.19,188.12 L725.49,188.03 L738.48,196.23 L763.77,171.62 L763.77,154.53 L616.8,154.53 L616.8,236.57Z" fill="#0000AA" />
<path d="M638.67,242.03 L645.51,239.98 L653.03,239.98 L654.4,247.5 L649.61,246.82 L644.14,245.45 L640.04,244.09Z" fill="#2AFFD5" />
<path d="M645.51,240.39 L652.34,240.39 L653.71,246.14 L649.61,245.86 L646.88,243.4Z" fill="#00C8FF" />
<path d="M376,448.5 L370,467.25 L367.5,476 L360,482.25 L358.75,491 L363.75,501 L367.5,511 L368.75,521 L371.25,528.5 L376,533.5 L376,536 L383.5,546 L391,558.5 L396,567.25 L403.5,572.25 L416,569.75 L426,566 L436,561 L448.5,556 L458.5,551 L462.25,543.5 L462.25,511 L426,448.5Z" fill="#55FFAA" />
<path d="M388.03,453.5 L390.22,453.5 L392.33,454.05 L394.36,455.14 L396.31,456.78 L398.19,458.97 L400.06,461.16 L401.94,463.34 L403.81,465.53 L405.69,467.72 L407.72,469.98 L409.91,472.33 L412.25,474.75 L414.75,477.25 L416.7,479.75 L418.11,482.25 L418.97,484.75 L419.28,487.25 L419.05,489.59 L418.27,491.78 L416.94,493.81 L415.06,495.69 L413.11,496.86 L411.08,497.33 L408.97,497.09 L406.78,496.16 L404.59,494.91 L402.41,493.34 L400.22,491.47 L398.03,489.28 L396,487.02 L394.12,484.67 L392.41,482.25 L390.84,479.75 L389.44,477.33 L388.19,474.98 L387.09,472.72 L386.16,470.53 L385.45,468.03 L384.98,465.22 L384.75,462.09 L384.75,458.66 L385.3,456.08 L386.39,454.36Z" fill="#2AFFD5" />
<path d="M405.38,471.47 L406.62,471.78 L408.03,472.48 L409.59,473.58 L411.31,475.06 L413.19,476.94 L414.67,478.89 L415.77,480.92 L416.47,483.03 L416.78,485.22 L416.62,486.94 L416,488.19 L414.91,488.97 L413.34,489.28 L411.86,489.05 L410.45,488.27 L409.12,486.94 L407.88,485.06 L406.75,483.27 L405.75,481.55 L404.88,479.91 L404.12,478.34 L403.59,476.86 L403.28,475.45 L403.19,474.12 L403.31,472.88 L403.72,472.02 L404.41,471.55Z" fill="#00FFFF" />
<path d="M419.59,525.69 L421.16,523.81 L423.03,522.88 L425.22,522.88 L427.72,523.81 L430.53,525.69 L433.03,527.48 L435.22,529.2 L437.09,530.84 L438.66,532.41 L440.22,533.97 L441.78,535.53 L443.34,537.09 L444.91,538.66 L446.31,540.14 L447.56,541.55 L448.66,542.88 L449.59,544.12 L450.3,545.22 L450.77,546.16 L451,546.94 L451,547.56 L450.84,548.42 L450.53,549.52 L450.06,550.84 L449.44,552.41 L448.34,553.81 L446.78,555.06 L444.75,556.16 L442.25,557.09 L439.75,557.88 L437.25,558.5 L434.75,558.97 L432.25,559.28 L429.98,559.36 L427.95,559.2 L426.16,558.81 L424.59,558.19 L423.11,557.02 L421.7,555.3 L420.38,553.03 L419.12,550.22 L418.11,547.48 L417.33,544.83 L416.78,542.25 L416.47,539.75 L416.31,537.41 L416.31,535.22 L416.47,533.19 L416.78,531.31 L417.41,529.44 L418.34,527.56Z" fill="#2AFFD5" />
<path d="M432.09,537.09 L433.66,536.16 L435.38,535.84 L437.25,536.16 L439.28,537.09 L441.47,538.66 L443.27,540.3 L444.67,542.02 L445.69,543.81 L446.31,545.69 L446.39,547.56 L445.92,549.44 L444.91,551.31 L443.34,553.19 L441.62,554.75 L439.75,556 L437.72,556.94 L435.53,557.56 L433.66,557.56 L432.09,556.94 L430.84,555.69 L429.91,553.81 L429.28,551.62 L428.97,549.12 L428.97,546.31 L429.28,543.19 L429.91,540.61 L430.84,538.58Z" fill="#00FFFF" />
<path d="M436,552.25 L439.75,551.5 L440.5,556 L436.75,558Z" fill="#0098FF" />
<path d="M486.78,554.75 L486.47,557.25 L486.39,559.91 L486.55,562.72 L486.94,565.69 L487.56,568.81 L488.34,571.78 L489.28,574.59 L490.38,577.25 L491.62,579.75 L493.03,582.09 L494.59,584.28 L496.31,586.31 L498.19,588.19 L500.22,589.98 L502.41,591.7 L504.75,593.34 L507.25,594.91 L509.91,596.23 L512.72,597.33 L515.69,598.19 L518.81,598.81 L521.94,599.12 L525.06,599.12 L528.19,598.81 L531.31,598.19 L534.12,597.33 L536.62,596.23 L538.81,594.91 L540.69,593.34 L542.33,591.7 L543.73,589.98 L544.91,588.19 L545.84,586.31 L546.16,584.52 L545.84,582.8 L544.91,581.16 L543.34,579.59 L541.86,578.03 L540.45,576.47 L539.12,574.91 L537.88,573.34 L536.62,571.7 L535.38,569.98 L534.12,568.19 L532.88,566.31 L531.62,564.59 L530.38,563.03 L529.12,561.62 L527.88,560.38 L526.47,559.12 L524.91,557.88 L523.19,556.62 L521.31,555.38 L519.44,554.28 L517.56,553.34 L515.69,552.56 L513.81,551.94 L511.78,551.23 L509.59,550.45 L507.25,549.59 L504.75,548.66 L502.41,547.95 L500.22,547.48 L498.19,547.25 L496.31,547.25 L494.52,547.48 L492.8,547.95 L491.16,548.66 L489.59,549.59 L488.34,550.92 L487.41,552.64Z" fill="#55FFAA" />
<path d="M493.66,557.56 L494.59,556.94 L495.61,557.09 L496.7,558.03 L497.88,559.75 L499.12,562.25 L500.38,564.59 L501.62,566.78 L502.88,568.81 L504.12,570.69 L505.38,572.56 L506.62,574.44 L507.88,576.31 L509.12,578.19 L510.69,579.91 L512.56,581.47 L514.75,582.88 L517.25,584.12 L519.75,585.06 L522.25,585.69 L524.75,586 L527.25,586 L529.59,585.84 L531.78,585.53 L533.81,585.06 L535.69,584.44 L537.41,584.12 L538.97,584.12 L540.38,584.44 L541.62,585.06 L542.25,586 L542.25,587.25 L541.62,588.81 L540.38,590.69 L538.66,592.25 L536.47,593.5 L533.81,594.44 L530.69,595.06 L527.56,595.38 L524.44,595.38 L521.31,595.06 L518.19,594.44 L515.22,593.66 L512.41,592.72 L509.75,591.62 L507.25,590.38 L504.91,588.97 L502.72,587.41 L500.69,585.69 L498.81,583.81 L497.17,581.78 L495.77,579.59 L494.59,577.25 L493.66,574.75 L492.95,572.09 L492.48,569.28 L492.25,566.31 L492.25,563.19 L492.48,560.69 L492.95,558.81Z" fill="#2AFFD5" />
<path d="M518.19,561.47 L521.31,561.78 L524.28,562.72 L527.09,564.28 L529.75,566.47 L532.25,569.28 L534.28,571.94 L535.84,574.44 L536.94,576.78 L537.56,578.97 L537.56,580.77 L536.94,582.17 L535.69,583.19 L533.81,583.81 L531.78,584.23 L529.59,584.45 L527.25,584.47 L524.75,584.28 L522.38,583.8 L520.12,583.02 L518,581.94 L516,580.56 L514.3,578.91 L512.89,576.97 L511.78,574.75 L510.97,572.25 L510.59,569.91 L510.66,567.72 L511.16,565.69 L512.09,563.81 L513.58,562.48 L515.61,561.7Z" fill="#80FF80" />
<path d="M504.75,517.25 L513.5,517.25 L516,521 L512.25,524.75 L506,522.25Z" fill="#2AFFD5" />
<path d="M291.25,615 L300,610 L310,605 L320,602.5 L330,603.75 L337.5,607.5 L342,612.5 L343.75,625 L335,625 L335,612.5 L320,612 L295,616.25Z" fill="#55FFAA" />
<path d="M478.5,617.25 L488.5,616.5 L493.5,623.5 L501,631 L511,633.5 L519.75,636 L516,642.25 L506,637.25 L496,632.25 L486,626Z" fill="#55FFAA" />
<path d="M426,597.25 L434.75,597.25 L436,601 L427.25,601.5Z" fill="#55FFAA" />
<path d="M425,595.5 L435,595.5 L436.25,600.5 L426.25,600.5Z" fill="#2AFFD5" />
<path d="M143.75,541 L151.25,533.5 L152.5,523.5 L149.5,513.5 L151.25,503.5 L157.5,497.25 L170,491 L182.5,486 L195,482.25 L207.5,477.25 L217.5,469.75 L222.5,464.75 L215,448.5 L145,473.5 L130,511 L135,541Z" fill="#AAFF55" />
<path d="M398.5,734.5 L413.5,735.75 L417.25,740.75 L416,752 L412.25,763.25 L407.25,774.5 L402.25,783.25 L396,784.5Z" fill="#AAFF55" />
<path d="M824,843 L828,848 L833,856 L833.5,862 L826,862 L824,853Z" fill="#D5FF2A" />
<path d="M826,844 L830,847 L840,859 L834,858Z" fill="#AAFF55" />
</g>
<g id="top">
<path d="M341.25,715.5 L350,713 L358.75,714 L352.5,716.5 L345,718Z" fill="#FFFFFF" />
<path d="M645.51,239.71 L650.29,239.3 L653.44,239.71 L654.26,236.57 L652.34,233.15 L649.61,231.78" fill="none" stroke="#FFFFFF" stroke-width="1.3" stroke-linecap="round" stroke-linejoin="round" />
<path d="M654.26,239.98 L654.81,243.4 L653.44,247.5" fill="none" stroke="#FFFFFF" stroke-width="1.0" stroke-linecap="round" stroke-linejoin="round" />
<path d="M623.5,819.5 L626,827 L619.75,832 L614.75,837 L617.25,842 L622.25,849.5 L628.5,848.25 L633.5,845.75 L636,839.5 L633.5,832 L628.5,827 L626,819.5Z" fill="#D5FF2A" />
<path d="M617.25,804.5 L626,800.75 L633.5,807 L629.75,814.5 L622.25,812Z" fill="#AAFF55" />
<path d="M788.25,823.25 L797,821.5 L812,821.5 L812,828.25 L807,829.5 L802,832 L797,834.5 L792,829.5Z" fill="#AAFF55" />
<path d="M802,832 L812,830.75 L818.25,837 L812,837 L807,835Z" fill="#D5FF2A" />
<path d="M540.64,326.35 L537.66,318.44 L535.9,311.4 L537.66,304.37 L535.9,297.34 L532.38,290.31 L530.62,285.04 L534.14,281.17 L539.76,279.41 L542.75,281.52 L540.12,285.39 L539.24,290.31 L541.87,295.58 L545.39,302.62 L548.03,307.89 L547.15,313.16 L543.63,320.19 L541.87,325.82Z" fill="#2AFFD5" />
<path d="M536.25,307.89 L527.46,304.37 L520.78,300.51 L517.79,297.34" fill="none" stroke="#2AFFD5" stroke-width="1.0" stroke-linecap="round" stroke-linejoin="round" />
<path d="M517.79,297.34 L517.26,302.26" fill="none" stroke="#FFFFFF" stroke-width="0.6" stroke-linecap="round" stroke-linejoin="round" />
<path d="M538.5,315 L531,311.25 L524.75,308.75" fill="none" stroke="#FFFFFF" stroke-width="0.7" stroke-linecap="round" stroke-linejoin="round" />
<path d="M536,318.75 L529.75,321.25 L524.75,323" fill="none" stroke="#FFFFFF" stroke-width="0.7" stroke-linecap="round" stroke-linejoin="round" />
<path d="M561,293.75 L557.25,291.25 L552.25,286.25 L549.75,281.25 L552.25,280 L557.25,285 L562.25,288.75Z" fill="#10E8FF" />
<path d="M582.83,255.16 L588.98,251.29 L599.53,249 L610.08,248.12 L618.86,246.72 L625.9,244.61 L620.62,247.77 L610.08,250.23 L601.29,252.52 L592.5,254.8 L585.47,256.03Z" fill="#0068FF" />
<path d="M582.83,255.16 L588.98,251.29 L596.01,249.53 L592.5,253.4 L585.47,256.03Z" fill="#0008FF" />
<path d="M610.08,248.12 L618.86,246.72 L625.9,244.61 L620.62,247.77 L611.83,249.88Z" fill="#00C8FF" />
<path d="M574.92,261.31 L585.47,257.79 L599.53,254.28 L613.59,250.23 L625.9,246.02 L631.17,241.09" fill="none" stroke="#FFFFFF" stroke-width="0.7" stroke-linecap="round" stroke-linejoin="round" />
<path d="M579.75,235 L580,245 L581,253.75" fill="none" stroke="#00FFFF" stroke-width="0.5" stroke-linecap="round" stroke-linejoin="round" />
<path d="M528.5,345 L538.5,342.5 L546,345 L548.5,352.5 L543.5,358.75 L536,361.25 L528.5,363.75 L526,360 L533.5,355 L539.75,351.25 L536,348Z" fill="#80FF80" />
<path d="M534.75,352.5 L541,351.25 L543,355 L537.25,357.5Z" fill="#FFFF00" />
<path d="M544,331.25 L548.5,341.25 L551,352.5 L548.5,358.75 L538.5,365 L528.5,370" fill="none" stroke="#FFFFFF" stroke-width="0.7" stroke-linecap="round" stroke-linejoin="round" />
<path d="M375,610 L382.5,607.5 L386.25,601.25 L390,596.25 L400,592.5 L412.5,588.75 L425,586.25 L437.5,587 L450,585 L401,592.25 L413.5,588.5 L426,586.75 L438.5,587.25 L451,589.75 L463.5,592.25 L476,597.25 L486,602.25 L496,606 L506,609.75 L516,614.75 L526,619.75 L536,623.5 L546,626 L548.5,631 L556,632.25 L566,634.75 L573.5,639.75 L574.75,642.25 L566,644.75 L556,647.25 L546,646 L536,644.75 L526,646 L516,647.25 L511,647.25 L513.5,643.5 L519.75,638.5 L518.5,634.75 L511,632.25 L503.5,631 L496,626 L492.25,619.75 L486,616 L476,611 L466,608.5 L456,604.75 L446,603.5 L436,603.5 L428.5,602.25 L426,598.5 L433.5,597.25 L428.5,596 L418.5,597.25 L408.5,599.75 L401,603.5 L390,606.25 L385,608.75 L380,611.25Z" fill="#D3D3D3" />
<path d="M407.5,611.25 L412.5,608.75 L417.5,611.25 L418,616.25 L412.5,618.75 L408,616.25Z" fill="#D3D3D3" />
<path d="M497.25,677 L503.5,674 L516,673.25 L528.5,677 L536,682 L536,685 L528.5,685.75 L523.5,689.5 L517.25,690.75 L511,687 L503.5,682Z" fill="#D3D3D3" />
<path d="M590,648.75 L597.5,646.25 L610,647.5 L622.5,648.75 L635,647 L645,650 L653.75,652.5 L656.25,657.5 L660,661.25 L670,662.5 L677.5,666.25 L683.75,671.25 L682.5,676.25 L677.5,677.5 L670,675 L660,674.5 L652.5,675 L647.5,678.75 L642.5,678.75 L640,676.25 L633.75,678.75 L630,685 L626.25,690 L622.5,686.25 L620,680 L613.75,676.25 L605,677.5 L595,678.75 L585,680 L581.25,681.25 L575,677.5 L570,675 L571.25,671.25 L577.5,671.25 L587.5,673 L597.5,673.75 L606.25,673 L608.75,670 L603.75,665 L601.25,658.75 L596.25,653.75 L590,651.25Z" fill="#D3D3D3" />
<path d="M592.5,666.25 L597.5,665.5 L601.25,668 L597.5,669.5 L593.75,668Z" fill="#D3D3D3" />
<path d="M705,675 L710,673.75 L722.5,674.5 L733.75,675.5 L735,678.75 L732.5,682.5 L720,683.75 L707.5,683.75 L705.5,680Z" fill="#D3D3D3" />
<path d="M752,672.5 L757.5,669.5 L761.25,670 L758.75,674.5 L753.75,677Z" fill="#FFFFFF" />
<path d="M584.5,625 L590,623 L596.25,621.25 L597.5,623.75 L593.75,627.5 L586.25,628.25Z" fill="#D3D3D3" />
<path d="M608.75,611.25 L616.25,609.5 L622.5,612.5 L625.5,617 L620,615 L612.5,613.75Z" fill="#FFFFFF" />
<path d="M594.5,600 L602,602" fill="none" stroke="#FFFFFF" stroke-width="1.2" stroke-linecap="round" stroke-linejoin="round" />
<path d="M573,593.75 L580,595.5 L578.75,600 L573.75,603.75" fill="none" stroke="#FFFFFF" stroke-width="1.2" stroke-linecap="round" stroke-linejoin="round" />
<path d="M496,558.5 L501,549.75 L504.75,551 L506,558.5 L509.75,566 L512.25,573.5 L509.75,576 L504.75,571 L499.75,564.75Z" fill="#D3D3D3" />
<path d="M486,521 L493.5,518.5 L503.5,517.25" fill="none" stroke="#D3D3D3" stroke-width="2.2" stroke-linecap="round" stroke-linejoin="round" />
<path d="M513.5,517.25 L519.75,521 L522.25,526 L519.75,534.75" fill="none" stroke="#D3D3D3" stroke-width="2.2" stroke-linecap="round" stroke-linejoin="round" />
<path d="M486,522 L493.5,520 L502.25,519" fill="none" stroke="#FFFFFF" stroke-width="0.8" stroke-linecap="round" stroke-linejoin="round" />
<path d="M526,543.5 L533.5,546 L538.5,556" fill="none" stroke="#FFFFFF" stroke-width="1.1" stroke-linecap="round" stroke-linejoin="round" />
<path d="M546,558.5 L553.5,568.5" fill="none" stroke="#FFFFFF" stroke-width="1.1" stroke-linecap="round" stroke-linejoin="round" />
<path d="M553.5,578.5 L562.25,591" fill="none" stroke="#FFFFFF" stroke-width="1.1" stroke-linecap="round" stroke-linejoin="round" />
<path d="M526,561 L536,571 L548.5,581" fill="none" stroke="#FFFFFF" stroke-width="1.1" stroke-linecap="round" stroke-linejoin="round" />
<path d="M573.5,593.5 L581,596 L576,603.5" fill="none" stroke="#FFFFFF" stroke-width="1.1" stroke-linecap="round" stroke-linejoin="round" />
<path d="M596,599.75 L601,602.25" fill="none" stroke="#FFFFFF" stroke-width="1.1" stroke-linecap="round" stroke-linejoin="round" />
<ellipse cx="810.125" cy="717.625" rx="1.875" ry="3.125" fill="#D3D3D3"/>
<ellipse cx="815.125" cy="730.75" rx="1.875" ry="3.75" fill="#D3D3D3"/>
<ellipse cx="822" cy="745.75" rx="2.5" ry="3.75" fill="#D3D3D3"/>
<ellipse cx="822.375" cy="760.125" rx="1.625" ry="3.125" fill="#D3D3D3"/>
<ellipse cx="818.25" cy="772.625" rx="1.25" ry="1.875" fill="#D3D3D3"/>
<ellipse cx="809.5" cy="793.25" rx="1.25" ry="2.5" fill="#D3D3D3"/>
<ellipse cx="757" cy="672.625" rx="3.25" ry="2.03125" fill="#FFFFFF"/>
<ellipse cx="783.25" cy="680.125" rx="0.8125" ry="1.21875" fill="#FFFFFF"/>
<ellipse cx="789.5" cy="696.375" rx="1.625" ry="2.03125" fill="#FFFFFF"/>
<ellipse cx="807" cy="690.125" rx="0.8125" ry="1.21875" fill="#FFFFFF"/>
<ellipse cx="807.375" cy="700.25" rx="1.05625" ry="0.8125" fill="#FFFFFF"/>
<ellipse cx="799.875" cy="706" rx="0.56875" ry="0.65" fill="#FFFFFF"/>
<ellipse cx="653.875" cy="785.5" rx="1.21875" ry="0.975" fill="#FFFFFF"/>
<ellipse cx="672.625" cy="790.75" rx="2.03125" ry="1.625" fill="#FFFFFF"/>
<ellipse cx="685.125" cy="791.375" rx="1.21875" ry="1.21875" fill="#FFFFFF"/>
<ellipse cx="714.5" cy="797.625" rx="2.4375" ry="1.21875" fill="#FFFFFF"/>
<ellipse cx="725.75" cy="798" rx="0.8125" ry="0.65" fill="#FFFFFF"/>
<ellipse cx="754.125" cy="797.75" rx="0.56875" ry="0.4875" fill="#FFFFFF"/>
<ellipse cx="764.25" cy="814.375" rx="3.0875" ry="1.05625" fill="#FFFFFF"/>
<path d="M812,818.25 L823.25,817 L823.25,827 L817,829.5 L812.5,828.25Z" fill="#D3D3D3" />
<path d="M796.62,834.69 L795.64,840.55 L798.57,847.38 L802.48,853.24 L799.06,859.1" fill="none" stroke="#FFFFFF" stroke-width="0.8" stroke-linecap="round" stroke-linejoin="round" />
<path d="M802.48,853.24 L806.88,858.12 L812.73,859.3" fill="none" stroke="#FFFFFF" stroke-width="0.8" stroke-linecap="round" stroke-linejoin="round" />
<path d="M823.48,847.38 L821.52,854.22 L818.59,859.3" fill="none" stroke="#FFFFFF" stroke-width="0.8" stroke-linecap="round" stroke-linejoin="round" />
<path d="M812.73,832.73 L818.59,833.22 L821.52,836.64 L822.01,840.06 L818.59,837.62 L814.69,835.66Z" fill="#AAFF55" />
<path d="M755.57,160 L752.15,165.47 L750.79,170.25 L754.89,172.31 L748.05,175.04 L741.22,178.46 L734.38,181.88 L728.91,185.29 L725.49,189.4 L724.12,194.18 L725.49,198.97 L728.91,202.38 L733.01,204.44 L737.11,205.12 L741.22,203.75 L745.32,201.02 L749.42,197.6 L754.89,193.5 L760.36,189.4 L765.01,186.66 L767,186.25 L777,182.5 L787,180 L797,177.5 L807,173.75 L817,168.75 L827,166.25 L840.75,162 L840.75,157.5Z" fill="#D3D3D3" />
<path d="M759.5,170.3 L767,169.6 L774.3,170.4 L766,172.3 L761.5,174.6 L759.5,173Z" fill="#FF1400" />
<path d="M778,163.6 L790,165.2 L798,164 L806,163.4 L814,166 L822,163.6 L830,164.5" fill="none" stroke="#FFFFFF" stroke-width="1.6" stroke-linecap="round" stroke-linejoin="round" />
<path d="M752.15,166.15 L754.2,163.42 L756.26,163.01 L754.89,165.47Z" fill="#FF9F00" />
<path d="M752.84,170.94 L756.26,170.66 L756.94,172.58 L754.2,172.99Z" fill="#00FFFF" />
<path d="M433.5,521 L441,516 L444.75,511 L451,509.75 L457.25,506 L454.75,496 L451,488.5 L448.5,479.75 L451,478.5 L456,488.5 L459.75,498.5 L463.5,511 L464.75,523.5 L463.5,533.5 L461,538.5 L451,534.75 L443.5,536 L437.25,533.5 L433.5,528.5Z" fill="#8B0000" />
<path d="M447.25,536 L456,535.25 L458,539.75 L453.5,544.75 L448.5,543.5Z" fill="#FF4500" />
<path d="M444.75,541 L448.5,543 L449.75,547.25 L446,546Z" fill="#FFFF00" />
<path d="M447.25,513.5 L451,511 L454.75,514.75 L452.25,519.75 L447.25,513.5" fill="none" stroke="#D3D3D3" stroke-width="0.6" stroke-linecap="round" stroke-linejoin="round" />
<path d="M241.25,443.5 L246.25,439 L251.25,442.25 L255,451 L258.75,458.5 L263.75,463.5 L260,466 L253.75,462.25 L247.5,458.5 L243.75,451Z" fill="#8B0000" />
<path d="M205,458.5 L215,456.5 L220,459.75 L215,462.75 L206.25,462.25Z" fill="#FF7300" />
<path d="M255,464.75 L260,465.5 L265,469.75 L263.75,473 L257.5,471Z" fill="#FF4500" />
<path d="M265,453.5 L275,451.5 L285,454.75 L282.5,459.75 L272.5,461 L266.25,458.5Z" fill="#FFFF00" />
<path d="M271.25,453 L280,452.25 L282.5,457.25 L275,458.5Z" fill="#D5FF2A" />
<path d="M277.5,461 L285,462.25 L292.5,471 L287.5,471 L280,466Z" fill="#FF9F00" />
<path d="M267.5,462.25 L276.25,463.5 L280,468.5 L270,469Z" fill="#FFFF00" />
<path d="M133.75,544.75 L140,543.5 L138.75,551 L135,551Z" fill="#FFFF00" />
<path d="M367.5,459.75 L373.75,459 L374.5,462.75 L368.75,463Z" fill="#FF4500" />
<path d="M133,561h1v1h-1zM133,562h1v1h-1zM139,497h1v1h-1zM140,498h1v1h-1zM139,544h1v1h-1zM139,545h1v1h-1zM137,508h1v1h-1zM137,509h1v1h-1zM129,556h1v1h-1zM153,487h1v1h-1zM135,559h1v1h-1zM144,499h1v1h-1zM140,528h1v1h-1zM131,556h1v1h-1zM152,489h1v1h-1zM153,489h1v1h-1zM179,472h1v1h-1zM163,479h1v1h-1zM139,522h1v1h-1zM138,523h1v1h-1zM127,547h1v1h-1zM136,556h1v1h-1zM172,479h1v1h-1zM141,527h1v1h-1zM141,528h1v1h-1zM181,473h1v1h-1zM132,553h1v1h-1zM139,529h1v1h-1zM140,529h1v1h-1zM157,481h1v1h-1zM141,517h1v1h-1zM141,522h1v1h-1zM149,491h1v1h-1zM150,491h1v1h-1zM151,491h1v1h-1zM139,503h1v1h-1zM176,475h1v1h-1zM135,543h1v1h-1zM138,516h1v1h-1zM142,535h1v1h-1zM136,527h1v1h-1zM137,527h1v1h-1zM138,527h1v1h-1zM180,472h1v1h-1zM139,521h1v1h-1zM140,522h1v1h-1zM140,523h1v1h-1zM134,556h1v1h-1zM133,557h1v1h-1zM138,521h1v1h-1zM134,555h1v1h-1zM133,556h1v1h-1zM135,558h1v1h-1zM136,551h1v1h-1zM144,532h1v1h-1zM140,516h1v1h-1zM132,561h1v1h-1zM132,562h1v1h-1zM183,472h1v1h-1zM140,518h1v1h-1zM172,478h1v1h-1zM142,536h1v1h-1zM143,537h1v1h-1zM182,471h1v1h-1zM142,542h1v1h-1zM141,497h1v1h-1zM163,483h1v1h-1zM155,485h1v1h-1zM134,561h1v1h-1zM139,498h1v1h-1zM166,476h1v1h-1zM147,491h1v1h-1zM148,491h1v1h-1zM141,524h1v1h-1zM141,525h1v1h-1zM158,486h1v1h-1zM142,541h1v1h-1zM139,511h1v1h-1zM147,495h1v1h-1zM146,496h1v1h-1zM153,484h1v1h-1zM154,484h1v1h-1zM184,469h1v1h-1zM185,470h1v1h-1zM140,514h1v1h-1zM182,467h1v1h-1zM139,526h1v1h-1zM142,530h1v1h-1zM176,474h1v1h-1zM143,533h1v1h-1zM134,551h1v1h-1zM139,518h1v1h-1zM135,555h1v1h-1zM136,555h1v1h-1zM149,486h1v1h-1zM143,536h1v1h-1zM142,537h1v1h-1zM139,517h1v1h-1zM182,472h1v1h-1zM154,488h1v1h-1zM141,519h1v1h-1zM169,479h1v1h-1zM169,480h1v1h-1zM133,552h1v1h-1zM131,563h1v1h-1zM184,471h1v1h-1zM185,471h1v1h-1zM152,484h1v1h-1zM151,485h1v1h-1zM137,541h1v1h-1zM138,541h1v1h-1zM158,483h1v1h-1zM158,484h1v1h-1zM175,470h1v1h-1zM134,563h1v1h-1zM136,550h1v1h-1zM132,556h1v1h-1zM132,557h1v1h-1zM140,520h1v1h-1zM182,470h1v1h-1zM138,539h1v1h-1zM144,534h1v1h-1zM141,515h1v1h-1zM139,520h1v1h-1zM137,522h1v1h-1zM134,546h1v1h-1zM141,520h1v1h-1zM148,492h1v1h-1zM135,556h1v1h-1zM137,547h1v1h-1zM170,479h1v1h-1zM139,519h1v1h-1zM141,508h1v1h-1zM140,509h1v1h-1zM139,510h1v1h-1zM164,477h1v1h-1zM135,550h1v1h-1zM162,483h1v1h-1zM137,551h1v1h-1zM133,558h1v1h-1zM143,538h1v1h-1zM132,550h1v1h-1zM143,502h1v1h-1zM138,537h1v1h-1zM137,549h1v1h-1zM135,547h1v1h-1zM135,549h1v1h-1zM136,549h1v1h-1zM132,559h1v1h-1zM133,548h1v1h-1zM134,548h1v1h-1zM135,548h1v1h-1z" fill="#8B0000" shape-rendering="crispEdges"/>
<path d="M242,461h1v1h-1zM242,462h1v1h-1zM181,470h1v1h-1zM182,470h1v1h-1zM183,470h1v1h-1zM184,470h1v1h-1zM172,465h1v1h-1zM172,466h1v1h-1zM172,467h1v1h-1zM230,459h1v1h-1zM190,467h1v1h-1zM189,468h1v1h-1zM255,468h1v1h-1zM259,466h1v1h-1zM239,459h1v1h-1zM240,459h1v1h-1zM241,459h1v1h-1zM260,462h1v1h-1zM260,463h1v1h-1zM208,456h1v1h-1zM208,457h1v1h-1zM208,458h1v1h-1zM208,459h1v1h-1zM204,460h1v1h-1zM205,460h1v1h-1zM206,460h1v1h-1zM207,460h1v1h-1zM180,465h1v1h-1zM200,463h1v1h-1zM240,460h1v1h-1zM178,472h1v1h-1zM204,462h1v1h-1zM205,462h1v1h-1zM225,456h1v1h-1zM225,457h1v1h-1zM235,447h1v1h-1zM199,463h1v1h-1zM198,464h1v1h-1zM223,459h1v1h-1zM224,459h1v1h-1zM225,459h1v1h-1zM226,459h1v1h-1zM190,468h1v1h-1zM194,459h1v1h-1zM223,460h1v1h-1zM199,464h1v1h-1zM193,466h1v1h-1zM235,457h1v1h-1zM237,460h1v1h-1zM211,455h1v1h-1zM210,456h1v1h-1zM193,460h1v1h-1zM220,456h1v1h-1zM243,455h1v1h-1zM193,465h1v1h-1zM238,459h1v1h-1zM182,473h1v1h-1zM244,455h1v1h-1zM198,455h1v1h-1zM221,458h1v1h-1zM227,453h1v1h-1zM227,454h1v1h-1zM191,462h1v1h-1zM253,462h1v1h-1zM218,455h1v1h-1zM181,469h1v1h-1zM180,473h1v1h-1zM202,456h1v1h-1zM209,458h1v1h-1zM192,467h1v1h-1zM241,463h1v1h-1zM227,457h1v1h-1zM251,461h1v1h-1zM252,461h1v1h-1zM253,461h1v1h-1zM243,461h1v1h-1zM244,462h1v1h-1zM179,474h1v1h-1zM176,471h1v1h-1zM177,462h1v1h-1zM237,461h1v1h-1zM237,462h1v1h-1zM257,462h1v1h-1zM218,457h1v1h-1zM238,453h1v1h-1zM238,454h1v1h-1zM238,455h1v1h-1zM181,471h1v1h-1zM212,461h1v1h-1zM257,466h1v1h-1zM256,467h1v1h-1zM200,450h1v1h-1zM201,450h1v1h-1zM247,461h1v1h-1zM226,463h1v1h-1zM192,465h1v1h-1zM252,457h1v1h-1zM208,460h1v1h-1zM188,465h1v1h-1zM183,469h1v1h-1zM217,458h1v1h-1zM207,462h1v1h-1zM254,467h1v1h-1zM195,458h1v1h-1zM219,459h1v1h-1zM220,460h1v1h-1zM195,456h1v1h-1zM233,461h1v1h-1zM186,467h1v1h-1zM187,467h1v1h-1zM188,467h1v1h-1zM251,465h1v1h-1zM252,465h1v1h-1zM206,459h1v1h-1zM200,464h1v1h-1zM187,460h1v1h-1zM218,456h1v1h-1zM219,456h1v1h-1zM187,468h1v1h-1zM179,472h1v1h-1zM244,463h1v1h-1zM244,464h1v1h-1zM225,454h1v1h-1zM226,454h1v1h-1zM191,467h1v1h-1zM218,462h1v1h-1zM221,452h1v1h-1zM247,465h1v1h-1zM248,465h1v1h-1zM181,473h1v1h-1zM229,460h1v1h-1zM214,459h1v1h-1zM211,450h1v1h-1zM227,456h1v1h-1zM226,457h1v1h-1zM252,463h1v1h-1zM253,464h1v1h-1zM249,464h1v1h-1zM246,456h1v1h-1zM207,459h1v1h-1zM199,462h1v1h-1zM207,461h1v1h-1zM246,458h1v1h-1zM245,465h1v1h-1zM230,463h1v1h-1zM220,459h1v1h-1zM188,468h1v1h-1zM231,461h1v1h-1zM231,462h1v1h-1zM231,463h1v1h-1zM179,468h1v1h-1zM180,468h1v1h-1zM180,470h1v1h-1zM180,471h1v1h-1zM180,472h1v1h-1zM261,464h1v1h-1zM262,464h1v1h-1zM190,466h1v1h-1zM222,459h1v1h-1zM224,453h1v1h-1zM224,454h1v1h-1zM252,462h1v1h-1zM186,468h1v1h-1zM219,458h1v1h-1zM180,474h1v1h-1zM201,463h1v1h-1zM227,459h1v1h-1zM228,459h1v1h-1zM234,456h1v1h-1zM253,463h1v1h-1zM253,465h1v1h-1zM253,466h1v1h-1z" fill="#8B0000" shape-rendering="crispEdges"/>
<path d="M254,459h1v1h-1zM255,459h1v1h-1zM256,459h1v1h-1zM257,459h1v1h-1zM252,454h1v1h-1zM252,455h1v1h-1zM251,459h1v1h-1zM246,444h1v1h-1zM257,453h1v1h-1zM257,454h1v1h-1zM257,455h1v1h-1zM257,456h1v1h-1zM258,457h1v1h-1zM245,453h1v1h-1zM243,451h1v1h-1zM251,460h1v1h-1zM251,453h1v1h-1zM251,454h1v1h-1zM255,444h1v1h-1zM250,446h1v1h-1zM251,449h1v1h-1zM252,449h1v1h-1zM253,449h1v1h-1zM250,453h1v1h-1zM257,450h1v1h-1zM244,445h1v1h-1zM255,453h1v1h-1zM250,461h1v1h-1zM249,462h1v1h-1zM255,462h1v1h-1zM244,443h1v1h-1zM248,445h1v1h-1zM249,446h1v1h-1zM250,447h1v1h-1zM251,447h1v1h-1zM241,443h1v1h-1zM242,443h1v1h-1zM251,455h1v1h-1zM256,455h1v1h-1zM253,457h1v1h-1zM253,458h1v1h-1zM253,459h1v1h-1zM247,449h1v1h-1zM248,449h1v1h-1zM246,446h1v1h-1zM255,447h1v1h-1zM251,448h1v1h-1zM245,448h1v1h-1zM246,448h1v1h-1zM256,464h1v1h-1zM257,464h1v1h-1zM258,464h1v1h-1zM247,445h1v1h-1zM245,444h1v1h-1zM245,445h1v1h-1zM248,446h1v1h-1zM250,452h1v1h-1zM254,460h1v1h-1zM259,461h1v1h-1zM259,462h1v1h-1zM259,463h1v1h-1zM256,456h1v1h-1zM252,451h1v1h-1zM252,466h1v1h-1zM256,457h1v1h-1zM256,458h1v1h-1zM249,456h1v1h-1zM258,460h1v1h-1zM244,442h1v1h-1zM243,446h1v1h-1zM247,448h1v1h-1zM248,456h1v1h-1zM249,457h1v1h-1zM250,458h1v1h-1zM252,461h1v1h-1zM252,462h1v1h-1zM250,456h1v1h-1zM250,443h1v1h-1zM253,456h1v1h-1zM253,451h1v1h-1zM253,452h1v1h-1zM245,443h1v1h-1zM248,454h1v1h-1zM249,454h1v1h-1zM250,454h1v1h-1zM251,457h1v1h-1zM250,444h1v1h-1zM256,460h1v1h-1zM256,461h1v1h-1zM256,462h1v1h-1z" fill="#8B0000" shape-rendering="crispEdges"/>
<path d="M259,462h1v1h-1zM257,459h1v1h-1zM258,459h1v1h-1zM258,463h1v1h-1zM250,450h1v1h-1zM247,444h1v1h-1zM247,445h1v1h-1zM247,446h1v1h-1zM244,446h1v1h-1zM254,454h1v1h-1zM255,455h1v1h-1zM258,464h1v1h-1zM259,464h1v1h-1zM256,460h1v1h-1zM257,460h1v1h-1zM258,460h1v1h-1zM250,457h1v1h-1zM254,448h1v1h-1zM253,453h1v1h-1zM253,454h1v1h-1zM253,455h1v1h-1zM245,446h1v1h-1zM253,447h1v1h-1zM253,448h1v1h-1zM253,449h1v1h-1z" fill="#D3D3D3" shape-rendering="crispEdges"/>
<path d="M331,451h1v1h-1zM365,458h1v1h-1zM291,472h1v1h-1zM368,459h1v1h-1zM304,451h1v1h-1zM310,452h1v1h-1zM311,452h1v1h-1zM290,468h1v1h-1zM291,468h1v1h-1zM273,469h1v1h-1zM317,451h1v1h-1zM303,452h1v1h-1zM293,455h1v1h-1zM294,455h1v1h-1zM355,448h1v1h-1zM270,466h1v1h-1zM271,467h1v1h-1zM309,450h1v1h-1zM305,449h1v1h-1zM330,450h1v1h-1zM327,450h1v1h-1zM346,451h1v1h-1zM357,454h1v1h-1zM325,449h1v1h-1zM300,449h1v1h-1zM301,449h1v1h-1zM353,449h1v1h-1zM285,463h1v1h-1zM262,471h1v1h-1zM283,470h1v1h-1zM350,451h1v1h-1zM352,451h1v1h-1zM351,452h1v1h-1zM302,453h1v1h-1zM330,451h1v1h-1zM290,469h1v1h-1zM289,467h1v1h-1zM288,468h1v1h-1zM287,463h1v1h-1zM280,469h1v1h-1zM326,450h1v1h-1zM278,468h1v1h-1zM279,468h1v1h-1zM354,453h1v1h-1zM361,455h1v1h-1zM362,456h1v1h-1z" fill="#8B0000" shape-rendering="crispEdges"/>
<path d="M395,454h1v1h-1zM416,490h1v1h-1zM417,491h1v1h-1zM411,469h1v1h-1zM413,475h1v1h-1zM414,475h1v1h-1zM420,501h1v1h-1zM417,502h1v1h-1zM407,469h1v1h-1zM418,494h1v1h-1zM425,509h1v1h-1zM425,510h1v1h-1zM424,513h1v1h-1zM405,467h1v1h-1zM416,489h1v1h-1zM417,489h1v1h-1zM418,489h1v1h-1zM419,489h1v1h-1zM419,504h1v1h-1zM420,504h1v1h-1zM425,513h1v1h-1zM424,514h1v1h-1zM421,509h1v1h-1zM416,482h1v1h-1zM416,483h1v1h-1zM416,484h1v1h-1zM416,485h1v1h-1zM416,486h1v1h-1zM402,464h1v1h-1zM378,455h1v1h-1zM400,462h1v1h-1zM400,463h1v1h-1zM386,454h1v1h-1zM398,460h1v1h-1zM416,481h1v1h-1zM407,467h1v1h-1zM416,491h1v1h-1zM416,492h1v1h-1zM393,456h1v1h-1zM424,509h1v1h-1zM384,455h1v1h-1zM387,453h1v1h-1zM422,510h1v1h-1zM389,450h1v1h-1zM397,457h1v1h-1zM399,454h1v1h-1zM419,501h1v1h-1zM428,512h1v1h-1zM429,513h1v1h-1zM422,507h1v1h-1zM418,484h1v1h-1zM417,485h1v1h-1zM408,468h1v1h-1zM418,504h1v1h-1zM419,505h1v1h-1zM420,506h1v1h-1zM390,452h1v1h-1zM421,506h1v1h-1zM422,506h1v1h-1zM397,459h1v1h-1zM405,466h1v1h-1zM416,498h1v1h-1zM421,484h1v1h-1zM417,497h1v1h-1zM416,487h1v1h-1zM423,487h1v1h-1zM401,464h1v1h-1zM390,453h1v1h-1zM425,515h1v1h-1zM425,516h1v1h-1zM425,517h1v1h-1zM406,468h1v1h-1zM379,457h1v1h-1zM424,511h1v1h-1zM410,472h1v1h-1zM411,472h1v1h-1zM419,481h1v1h-1zM419,482h1v1h-1zM419,483h1v1h-1zM419,484h1v1h-1zM385,454h1v1h-1zM421,504h1v1h-1zM381,456h1v1h-1zM418,482h1v1h-1zM418,483h1v1h-1zM407,466h1v1h-1zM408,466h1v1h-1zM420,503h1v1h-1zM421,503h1v1h-1zM422,503h1v1h-1zM423,503h1v1h-1zM424,503h1v1h-1z" fill="#8B0000" shape-rendering="crispEdges"/>
<path d="M436,466h1v1h-1zM439,451h1v1h-1zM442,463h1v1h-1zM438,457h1v1h-1zM439,457h1v1h-1zM440,457h1v1h-1zM438,452h1v1h-1zM438,453h1v1h-1zM449,479h1v1h-1zM439,459h1v1h-1zM438,442h1v1h-1zM442,464h1v1h-1zM443,466h1v1h-1zM441,462h1v1h-1zM439,446h1v1h-1zM439,447h1v1h-1zM439,465h1v1h-1zM438,451h1v1h-1zM447,478h1v1h-1zM447,480h1v1h-1zM448,480h1v1h-1zM436,450h1v1h-1zM442,469h1v1h-1zM442,470h1v1h-1zM439,444h1v1h-1zM438,455h1v1h-1zM443,467h1v1h-1zM439,449h1v1h-1zM441,460h1v1h-1zM437,444h1v1h-1zM439,442h1v1h-1zM438,445h1v1h-1zM439,445h1v1h-1zM437,454h1v1h-1zM440,459h1v1h-1zM445,476h1v1h-1zM445,477h1v1h-1zM445,478h1v1h-1zM440,461h1v1h-1zM443,471h1v1h-1zM439,453h1v1h-1zM439,441h1v1h-1zM441,459h1v1h-1zM439,454h1v1h-1zM440,468h1v1h-1zM442,466h1v1h-1zM446,473h1v1h-1zM445,474h1v1h-1zM439,456h1v1h-1zM441,467h1v1h-1zM438,448h1v1h-1zM446,474h1v1h-1zM438,449h1v1h-1zM439,448h1v1h-1zM438,467h1v1h-1zM445,475h1v1h-1zM446,476h1v1h-1zM447,477h1v1h-1zM447,475h1v1h-1zM439,466h1v1h-1zM439,443h1v1h-1zM437,449h1v1h-1zM436,447h1v1h-1zM437,443h1v1h-1zM446,479h1v1h-1zM436,457h1v1h-1zM437,458h1v1h-1zM444,468h1v1h-1zM444,469h1v1h-1zM436,446h1v1h-1zM437,446h1v1h-1zM438,446h1v1h-1zM439,450h1v1h-1zM440,454h1v1h-1zM443,465h1v1h-1zM438,444h1v1h-1zM444,472h1v1h-1zM439,462h1v1h-1zM440,463h1v1h-1zM444,470h1v1h-1zM434,444h1v1h-1zM433,445h1v1h-1zM438,447h1v1h-1zM439,461h1v1h-1zM440,458h1v1h-1zM442,468h1v1h-1zM437,456h1v1h-1zM437,457h1v1h-1zM440,465h1v1h-1zM440,455h1v1h-1zM436,443h1v1h-1zM435,455h1v1h-1zM436,455h1v1h-1zM441,461h1v1h-1zM441,463h1v1h-1zM441,464h1v1h-1zM437,453h1v1h-1zM438,454h1v1h-1zM439,455h1v1h-1zM438,461h1v1h-1zM438,462h1v1h-1zM438,463h1v1h-1zM438,464h1v1h-1zM448,477h1v1h-1zM438,465h1v1h-1zM442,465h1v1h-1zM447,479h1v1h-1zM448,479h1v1h-1zM442,471h1v1h-1zM441,472h1v1h-1zM434,447h1v1h-1zM439,460h1v1h-1zM442,467h1v1h-1zM436,448h1v1h-1zM439,452h1v1h-1zM443,469h1v1h-1zM444,471h1v1h-1zM444,473h1v1h-1zM444,474h1v1h-1zM440,456h1v1h-1z" fill="#8B0000" shape-rendering="crispEdges"/>
<path d="M446,424h1v1h-1zM445,425h1v1h-1zM437,457h1v1h-1zM482,389h1v1h-1zM502,384h1v1h-1zM437,436h1v1h-1zM437,437h1v1h-1zM448,417h1v1h-1zM458,410h1v1h-1zM499,384h1v1h-1zM467,403h1v1h-1zM440,470h1v1h-1zM446,422h1v1h-1zM439,450h1v1h-1zM479,389h1v1h-1zM453,414h1v1h-1zM454,414h1v1h-1zM455,414h1v1h-1zM443,476h1v1h-1zM459,410h1v1h-1zM460,410h1v1h-1zM450,482h1v1h-1zM439,449h1v1h-1zM451,412h1v1h-1zM450,413h1v1h-1zM436,435h1v1h-1zM435,460h1v1h-1zM436,460h1v1h-1zM434,449h1v1h-1zM435,450h1v1h-1zM436,453h1v1h-1zM450,410h1v1h-1zM437,447h1v1h-1zM438,425h1v1h-1zM490,385h1v1h-1zM441,465h1v1h-1zM484,391h1v1h-1zM461,407h1v1h-1zM442,464h1v1h-1zM442,481h1v1h-1zM443,482h1v1h-1zM444,483h1v1h-1zM445,484h1v1h-1zM445,420h1v1h-1zM446,421h1v1h-1zM447,422h1v1h-1zM443,472h1v1h-1zM458,397h1v1h-1zM482,391h1v1h-1zM504,382h1v1h-1zM500,384h1v1h-1zM495,384h1v1h-1zM443,477h1v1h-1zM441,426h1v1h-1zM453,412h1v1h-1zM496,381h1v1h-1zM455,412h1v1h-1zM456,413h1v1h-1zM439,446h1v1h-1zM438,447h1v1h-1zM446,416h1v1h-1zM493,386h1v1h-1zM496,378h1v1h-1zM442,469h1v1h-1zM447,475h1v1h-1zM467,396h1v1h-1zM468,396h1v1h-1zM439,462h1v1h-1zM498,381h1v1h-1zM440,428h1v1h-1zM440,454h1v1h-1zM486,383h1v1h-1zM485,384h1v1h-1zM431,441h1v1h-1zM480,387h1v1h-1zM450,417h1v1h-1zM451,418h1v1h-1zM501,384h1v1h-1zM470,400h1v1h-1zM471,401h1v1h-1zM472,402h1v1h-1zM455,413h1v1h-1zM449,483h1v1h-1zM437,469h1v1h-1zM480,392h1v1h-1zM449,420h1v1h-1zM490,386h1v1h-1zM448,479h1v1h-1zM441,459h1v1h-1zM440,460h1v1h-1zM439,461h1v1h-1zM438,462h1v1h-1zM437,463h1v1h-1zM439,444h1v1h-1zM439,452h1v1h-1zM445,473h1v1h-1zM444,474h1v1h-1zM445,481h1v1h-1zM437,430h1v1h-1zM446,483h1v1h-1zM478,397h1v1h-1zM439,454h1v1h-1zM445,478h1v1h-1zM445,479h1v1h-1zM445,480h1v1h-1zM445,482h1v1h-1zM480,391h1v1h-1zM459,408h1v1h-1zM434,445h1v1h-1zM433,446h1v1h-1zM432,447h1v1h-1zM479,392h1v1h-1zM479,393h1v1h-1zM442,465h1v1h-1zM443,465h1v1h-1zM492,385h1v1h-1zM443,471h1v1h-1zM471,396h1v1h-1zM472,396h1v1h-1zM473,396h1v1h-1zM474,396h1v1h-1zM480,395h1v1h-1zM479,396h1v1h-1zM477,398h1v1h-1zM433,469h1v1h-1zM445,422h1v1h-1zM438,445h1v1h-1zM439,445h1v1h-1zM439,457h1v1h-1zM438,458h1v1h-1zM437,459h1v1h-1zM464,403h1v1h-1zM464,404h1v1h-1zM452,415h1v1h-1zM442,462h1v1h-1zM444,477h1v1h-1zM466,406h1v1h-1zM436,446h1v1h-1zM437,446h1v1h-1zM438,451h1v1h-1zM458,411h1v1h-1zM452,417h1v1h-1zM450,484h1v1h-1zM479,397h1v1h-1zM438,459h1v1h-1zM474,394h1v1h-1zM444,476h1v1h-1zM437,452h1v1h-1zM477,392h1v1h-1zM438,448h1v1h-1zM493,380h1v1h-1zM494,380h1v1h-1zM451,485h1v1h-1zM430,449h1v1h-1zM431,449h1v1h-1zM440,437h1v1h-1zM439,438h1v1h-1zM438,439h1v1h-1zM437,440h1v1h-1zM447,419h1v1h-1zM453,413h1v1h-1zM446,479h1v1h-1zM441,478h1v1h-1zM442,478h1v1h-1zM431,462h1v1h-1zM478,398h1v1h-1zM443,473h1v1h-1zM501,383h1v1h-1zM446,476h1v1h-1zM448,414h1v1h-1zM443,428h1v1h-1zM488,387h1v1h-1zM456,414h1v1h-1zM486,385h1v1h-1zM487,385h1v1h-1zM459,404h1v1h-1zM458,405h1v1h-1zM494,385h1v1h-1zM437,475h1v1h-1zM492,380h1v1h-1zM444,469h1v1h-1zM457,411h1v1h-1zM468,394h1v1h-1zM439,442h1v1h-1zM445,426h1v1h-1zM443,426h1v1h-1zM432,452h1v1h-1zM431,453h1v1h-1zM430,454h1v1h-1zM429,455h1v1h-1zM428,456h1v1h-1zM443,466h1v1h-1zM479,390h1v1h-1zM480,390h1v1h-1zM467,400h1v1h-1zM437,462h1v1h-1zM436,447h1v1h-1zM436,448h1v1h-1zM464,408h1v1h-1zM445,476h1v1h-1zM434,464h1v1h-1zM435,464h1v1h-1zM436,464h1v1h-1zM500,383h1v1h-1zM439,464h1v1h-1zM440,465h1v1h-1zM441,466h1v1h-1zM442,467h1v1h-1zM443,468h1v1h-1zM443,475h1v1h-1zM443,470h1v1h-1zM442,471h1v1h-1zM437,444h1v1h-1zM437,445h1v1h-1zM441,424h1v1h-1zM442,424h1v1h-1zM443,424h1v1h-1zM442,431h1v1h-1zM468,405h1v1h-1zM435,458h1v1h-1zM452,485h1v1h-1zM494,384h1v1h-1zM466,402h1v1h-1zM447,486h1v1h-1zM440,455h1v1h-1zM455,411h1v1h-1zM447,476h1v1h-1zM490,377h1v1h-1zM490,378h1v1h-1zM490,379h1v1h-1zM490,380h1v1h-1zM502,381h1v1h-1zM443,479h1v1h-1zM438,452h1v1h-1zM452,416h1v1h-1zM439,440h1v1h-1zM479,395h1v1h-1zM442,463h1v1h-1zM442,421h1v1h-1zM434,434h1v1h-1zM434,455h1v1h-1zM447,477h1v1h-1zM448,477h1v1h-1zM493,383h1v1h-1zM444,426h1v1h-1zM462,409h1v1h-1zM445,424h1v1h-1zM476,393h1v1h-1zM477,393h1v1h-1zM478,393h1v1h-1zM443,430h1v1h-1zM495,381h1v1h-1zM446,473h1v1h-1zM438,457h1v1h-1zM439,451h1v1h-1zM460,404h1v1h-1zM473,399h1v1h-1zM461,408h1v1h-1zM445,477h1v1h-1zM462,406h1v1h-1zM446,419h1v1h-1zM449,484h1v1h-1zM442,474h1v1h-1zM494,381h1v1h-1zM494,382h1v1h-1zM494,383h1v1h-1zM438,426h1v1h-1zM437,427h1v1h-1zM481,395h1v1h-1zM447,423h1v1h-1zM438,449h1v1h-1zM439,441h1v1h-1zM504,377h1v1h-1zM503,378h1v1h-1zM437,449h1v1h-1zM439,460h1v1h-1zM493,385h1v1h-1zM439,459h1v1h-1zM441,480h1v1h-1zM487,381h1v1h-1zM438,444h1v1h-1zM442,425h1v1h-1zM450,412h1v1h-1zM436,436h1v1h-1zM468,404h1v1h-1zM469,404h1v1h-1zM493,382h1v1h-1zM492,383h1v1h-1zM460,407h1v1h-1zM471,403h1v1h-1zM440,435h1v1h-1zM490,384h1v1h-1zM438,467h1v1h-1zM439,468h1v1h-1zM440,469h1v1h-1zM440,478h1v1h-1zM446,423h1v1h-1zM465,404h1v1h-1zM466,404h1v1h-1zM487,384h1v1h-1zM488,384h1v1h-1zM439,437h1v1h-1zM472,399h1v1h-1zM472,400h1v1h-1zM445,423h1v1h-1zM439,420h1v1h-1zM475,392h1v1h-1zM476,392h1v1h-1zM478,396h1v1h-1zM443,481h1v1h-1zM451,416h1v1h-1zM437,450h1v1h-1zM485,387h1v1h-1zM442,414h1v1h-1zM443,414h1v1h-1zM440,429h1v1h-1zM440,430h1v1h-1zM440,461h1v1h-1zM433,437h1v1h-1zM439,474h1v1h-1zM440,475h1v1h-1zM441,476h1v1h-1zM442,477h1v1h-1zM438,469h1v1h-1zM486,387h1v1h-1zM464,397h1v1h-1zM497,385h1v1h-1zM478,388h1v1h-1zM478,389h1v1h-1zM495,385h1v1h-1z" fill="#8B0000" shape-rendering="crispEdges"/>
<path d="M542,358h1v1h-1zM529,340h1v1h-1zM515,358h1v1h-1zM525,369h1v1h-1zM545,344h1v1h-1zM542,355h1v1h-1zM542,356h1v1h-1zM546,317h1v1h-1zM527,367h1v1h-1zM528,367h1v1h-1zM529,367h1v1h-1zM542,350h1v1h-1zM548,352h1v1h-1zM544,356h1v1h-1zM527,366h1v1h-1zM514,366h1v1h-1zM514,367h1v1h-1zM545,304h1v1h-1zM536,335h1v1h-1zM529,363h1v1h-1zM539,332h1v1h-1zM539,333h1v1h-1zM504,383h1v1h-1zM499,373h1v1h-1zM539,361h1v1h-1zM540,362h1v1h-1zM544,347h1v1h-1zM545,348h1v1h-1zM546,349h1v1h-1zM547,350h1v1h-1zM550,308h1v1h-1zM539,330h1v1h-1zM540,330h1v1h-1zM517,371h1v1h-1zM539,331h1v1h-1zM528,364h1v1h-1zM529,365h1v1h-1zM530,366h1v1h-1zM540,324h1v1h-1zM541,325h1v1h-1zM541,335h1v1h-1zM533,363h1v1h-1zM538,312h1v1h-1zM538,313h1v1h-1zM538,314h1v1h-1zM541,347h1v1h-1zM553,303h1v1h-1zM545,355h1v1h-1zM545,356h1v1h-1zM545,357h1v1h-1zM545,358h1v1h-1zM545,359h1v1h-1zM538,355h1v1h-1zM510,374h1v1h-1zM542,319h1v1h-1zM534,363h1v1h-1zM547,344h1v1h-1zM510,366h1v1h-1zM511,366h1v1h-1zM541,324h1v1h-1zM506,362h1v1h-1zM543,321h1v1h-1zM545,353h1v1h-1zM543,354h1v1h-1zM541,337h1v1h-1zM541,338h1v1h-1zM541,339h1v1h-1zM521,361h1v1h-1zM529,362h1v1h-1zM544,351h1v1h-1zM536,322h1v1h-1zM544,354h1v1h-1zM541,356h1v1h-1zM501,382h1v1h-1zM532,366h1v1h-1zM537,354h1v1h-1zM541,326h1v1h-1zM511,373h1v1h-1zM549,316h1v1h-1zM550,317h1v1h-1zM541,314h1v1h-1zM541,315h1v1h-1zM556,306h1v1h-1zM557,307h1v1h-1zM541,355h1v1h-1zM534,341h1v1h-1zM549,304h1v1h-1zM550,304h1v1h-1zM512,373h1v1h-1zM501,372h1v1h-1zM501,373h1v1h-1zM501,374h1v1h-1zM556,305h1v1h-1zM557,305h1v1h-1zM497,379h1v1h-1zM497,380h1v1h-1zM554,309h1v1h-1zM542,306h1v1h-1zM548,312h1v1h-1zM543,347h1v1h-1zM544,348h1v1h-1zM549,350h1v1h-1zM540,341h1v1h-1zM522,362h1v1h-1zM521,363h1v1h-1zM537,332h1v1h-1zM506,376h1v1h-1zM507,376h1v1h-1zM550,354h1v1h-1zM548,300h1v1h-1zM508,376h1v1h-1zM548,311h1v1h-1zM548,313h1v1h-1zM516,372h1v1h-1zM517,372h1v1h-1zM509,370h1v1h-1zM534,316h1v1h-1zM545,341h1v1h-1zM544,342h1v1h-1zM538,363h1v1h-1z" fill="#8B0000" shape-rendering="crispEdges"/>
<path d="M550,296h1v1h-1zM551,297h1v1h-1zM552,298h1v1h-1zM569,269h1v1h-1zM548,307h1v1h-1zM539,305h1v1h-1zM540,305h1v1h-1zM541,305h1v1h-1zM542,305h1v1h-1zM567,278h1v1h-1zM550,301h1v1h-1zM551,301h1v1h-1zM552,301h1v1h-1zM577,269h1v1h-1zM576,270h1v1h-1zM568,271h1v1h-1zM569,274h1v1h-1zM549,312h1v1h-1zM568,278h1v1h-1zM569,278h1v1h-1zM554,307h1v1h-1zM553,308h1v1h-1zM552,309h1v1h-1zM557,297h1v1h-1zM558,298h1v1h-1zM559,299h1v1h-1zM560,274h1v1h-1zM558,301h1v1h-1zM558,295h1v1h-1zM569,273h1v1h-1zM570,282h1v1h-1zM558,297h1v1h-1zM558,299h1v1h-1zM558,300h1v1h-1zM574,269h1v1h-1zM575,269h1v1h-1z" fill="#8B0000" shape-rendering="crispEdges"/>
<path d="M580,253h1v1h-1zM581,254h1v1h-1zM577,261h1v1h-1zM603,237h1v1h-1zM602,238h1v1h-1zM619,238h1v1h-1zM615,250h1v1h-1zM602,247h1v1h-1zM594,254h1v1h-1zM595,255h1v1h-1zM596,256h1v1h-1z" fill="#8B0000" shape-rendering="crispEdges"/>
<path d="M644,208h1v1h-1zM637,219h1v1h-1zM637,215h1v1h-1zM638,223h1v1h-1zM647,203h1v1h-1zM655,197h1v1h-1zM655,198h1v1h-1zM638,231h1v1h-1zM638,232h1v1h-1zM657,194h1v1h-1zM634,232h1v1h-1zM634,233h1v1h-1zM643,209h1v1h-1zM642,210h1v1h-1z" fill="#8B0000" shape-rendering="crispEdges"/>
<path d="M189,463h1v1h-1zM188,464h1v1h-1zM230,462h1v1h-1zM239,463h1v1h-1zM257,468h1v1h-1zM228,461h1v1h-1zM245,465h1v1h-1zM160,479h1v1h-1zM161,479h1v1h-1zM162,479h1v1h-1zM168,481h1v1h-1zM184,471h1v1h-1zM198,463h1v1h-1zM198,464h1v1h-1zM152,489h1v1h-1zM157,484h1v1h-1zM165,479h1v1h-1zM166,480h1v1h-1zM178,475h1v1h-1zM227,463h1v1h-1zM217,460h1v1h-1zM159,484h1v1h-1zM254,467h1v1h-1zM144,501h1v1h-1zM144,499h1v1h-1zM145,499h1v1h-1zM157,485h1v1h-1zM158,485h1v1h-1zM240,461h1v1h-1zM220,461h1v1h-1zM226,460h1v1h-1zM226,461h1v1h-1zM147,494h1v1h-1zM246,465h1v1h-1zM141,509h1v1h-1zM141,510h1v1h-1zM141,511h1v1h-1zM141,512h1v1h-1zM217,461h1v1h-1zM146,497h1v1h-1zM142,504h1v1h-1zM233,463h1v1h-1zM234,463h1v1h-1zM185,471h1v1h-1zM249,465h1v1h-1zM249,466h1v1h-1zM210,461h1v1h-1zM223,462h1v1h-1zM211,459h1v1h-1zM189,464h1v1h-1z" fill="#FF7300" shape-rendering="crispEdges"/>
<path d="M144,498h1v1h-1zM144,499h1v1h-1zM177,475h1v1h-1zM202,462h1v1h-1zM165,482h1v1h-1zM143,502h1v1h-1zM143,503h1v1h-1zM201,459h1v1h-1zM146,497h1v1h-1zM151,491h1v1h-1zM159,485h1v1h-1zM214,459h1v1h-1zM169,479h1v1h-1zM169,480h1v1h-1zM145,499h1v1h-1zM163,483h1v1h-1zM214,460h1v1h-1zM182,473h1v1h-1zM164,482h1v1h-1zM157,485h1v1h-1zM168,481h1v1h-1zM226,462h1v1h-1zM236,463h1v1h-1zM217,462h1v1h-1zM218,462h1v1h-1zM183,472h1v1h-1zM141,510h1v1h-1zM176,476h1v1h-1zM177,476h1v1h-1zM234,463h1v1h-1zM229,463h1v1h-1zM242,464h1v1h-1zM212,461h1v1h-1zM178,475h1v1h-1zM179,475h1v1h-1zM211,462h1v1h-1zM180,474h1v1h-1zM178,476h1v1h-1zM208,462h1v1h-1zM224,462h1v1h-1z" fill="#FFFF00" shape-rendering="crispEdges"/>
<path d="M460,409h1v1h-1zM441,463h1v1h-1zM441,464h1v1h-1zM438,451h1v1h-1zM436,452h1v1h-1zM437,457h1v1h-1zM440,455h1v1h-1zM438,453h1v1h-1zM450,418h1v1h-1zM451,418h1v1h-1zM482,392h1v1h-1zM482,393h1v1h-1zM440,456h1v1h-1zM476,397h1v1h-1zM453,412h1v1h-1zM443,427h1v1h-1zM442,427h1v1h-1zM443,428h1v1h-1zM438,438h1v1h-1zM437,437h1v1h-1zM436,438h1v1h-1zM468,402h1v1h-1zM439,436h1v1h-1zM441,469h1v1h-1zM452,417h1v1h-1zM437,430h1v1h-1zM437,431h1v1h-1zM463,408h1v1h-1zM458,412h1v1h-1zM485,390h1v1h-1z" fill="#FF7300" shape-rendering="crispEdges"/>
<path d="M540,331h1v1h-1zM540,332h1v1h-1zM523,367h1v1h-1zM524,368h1v1h-1zM533,364h1v1h-1zM543,333h1v1h-1zM547,357h1v1h-1zM538,360h1v1h-1zM539,361h1v1h-1zM530,362h1v1h-1zM529,363h1v1h-1zM515,371h1v1h-1zM516,371h1v1h-1zM517,371h1v1h-1zM513,372h1v1h-1zM523,364h1v1h-1zM505,377h1v1h-1zM533,359h1v1h-1zM537,346h1v1h-1zM536,347h1v1h-1zM535,348h1v1h-1zM545,355h1v1h-1zM544,356h1v1h-1zM533,319h1v1h-1zM549,355h1v1h-1z" fill="#FFCC00" shape-rendering="crispEdges"/>
<path d="M288,465h1v1h-1zM285,463h1v1h-1zM285,464h1v1h-1zM285,465h1v1h-1zM285,466h1v1h-1zM292,468h1v1h-1zM282,461h1v1h-1zM288,461h1v1h-1zM276,462h1v1h-1zM284,458h1v1h-1zM270,457h1v1h-1zM271,457h1v1h-1zM272,457h1v1h-1zM260,460h1v1h-1zM282,458h1v1h-1zM264,459h1v1h-1zM269,461h1v1h-1zM272,459h1v1h-1zM292,469h1v1h-1zM278,459h1v1h-1zM279,460h1v1h-1zM280,461h1v1h-1zM267,460h1v1h-1zM261,461h1v1h-1zM280,467h1v1h-1zM281,468h1v1h-1zM272,460h1v1h-1zM273,461h1v1h-1zM274,462h1v1h-1zM291,471h1v1h-1zM280,459h1v1h-1zM284,456h1v1h-1zM284,457h1v1h-1zM260,458h1v1h-1zM288,467h1v1h-1zM274,455h1v1h-1zM286,462h1v1h-1zM286,463h1v1h-1zM264,460h1v1h-1zM292,470h1v1h-1zM276,460h1v1h-1zM275,457h1v1h-1zM274,458h1v1h-1zM273,459h1v1h-1zM271,461h1v1h-1zM281,458h1v1h-1zM259,457h1v1h-1zM274,459h1v1h-1zM273,460h1v1h-1zM272,461h1v1h-1zM271,462h1v1h-1zM270,463h1v1h-1zM264,462h1v1h-1zM284,460h1v1h-1zM283,464h1v1h-1zM284,465h1v1h-1zM289,471h1v1h-1zM289,469h1v1h-1zM289,470h1v1h-1zM293,471h1v1h-1zM293,472h1v1h-1z" fill="#FFFF00" shape-rendering="crispEdges"/>
<path d="M264,461h1v1h-1zM264,462h1v1h-1zM276,456h1v1h-1zM283,459h1v1h-1zM287,468h1v1h-1zM274,458h1v1h-1zM277,455h1v1h-1zM278,461h1v1h-1zM275,464h1v1h-1zM282,458h1v1h-1zM267,461h1v1h-1zM267,462h1v1h-1zM280,462h1v1h-1zM286,467h1v1h-1zM287,467h1v1h-1zM288,467h1v1h-1zM289,467h1v1h-1zM284,460h1v1h-1zM286,463h1v1h-1zM273,454h1v1h-1zM263,459h1v1h-1zM264,459h1v1h-1zM276,460h1v1h-1zM277,460h1v1h-1zM278,460h1v1h-1zM269,457h1v1h-1zM291,469h1v1h-1zM291,470h1v1h-1zM261,461h1v1h-1zM272,457h1v1h-1zM285,461h1v1h-1zM279,459h1v1h-1zM261,464h1v1h-1zM267,454h1v1h-1zM288,472h1v1h-1z" fill="#FF9F00" shape-rendering="crispEdges"/>
<path d="M280,458h1v1h-1zM280,459h1v1h-1zM274,456h1v1h-1zM269,459h1v1h-1zM266,455h1v1h-1zM264,455h1v1h-1zM265,455h1v1h-1zM273,460h1v1h-1zM290,472h1v1h-1zM269,460h1v1h-1zM270,460h1v1h-1zM284,459h1v1h-1zM285,459h1v1h-1zM286,459h1v1h-1zM282,458h1v1h-1zM264,462h1v1h-1zM277,458h1v1h-1zM277,451h1v1h-1zM265,460h1v1h-1zM264,461h1v1h-1zM263,462h1v1h-1zM275,454h1v1h-1zM270,461h1v1h-1zM291,470h1v1h-1zM292,470h1v1h-1zM293,470h1v1h-1zM271,458h1v1h-1zM265,454h1v1h-1zM263,460h1v1h-1zM264,460h1v1h-1z" fill="#FFFFFF" shape-rendering="crispEdges"/>
<path d="M442,521h1v1h-1zM462,522h1v1h-1zM462,520h1v1h-1zM463,521h1v1h-1zM464,522h1v1h-1zM444,523h1v1h-1zM456,529h1v1h-1zM461,527h1v1h-1zM447,520h1v1h-1zM446,521h1v1h-1zM439,517h1v1h-1zM452,524h1v1h-1zM453,525h1v1h-1zM453,519h1v1h-1zM434,520h1v1h-1zM434,521h1v1h-1zM458,526h1v1h-1zM457,523h1v1h-1zM458,523h1v1h-1zM449,516h1v1h-1zM449,526h1v1h-1zM456,533h1v1h-1zM442,519h1v1h-1zM457,537h1v1h-1zM458,537h1v1h-1zM459,537h1v1h-1zM462,535h1v1h-1zM458,533h1v1h-1zM460,529h1v1h-1zM460,530h1v1h-1zM460,531h1v1h-1zM460,532h1v1h-1zM454,524h1v1h-1zM449,524h1v1h-1zM449,525h1v1h-1zM446,523h1v1h-1zM460,535h1v1h-1zM440,529h1v1h-1zM461,528h1v1h-1zM451,525h1v1h-1zM457,531h1v1h-1zM440,523h1v1h-1zM445,521h1v1h-1zM455,530h1v1h-1zM455,531h1v1h-1zM454,519h1v1h-1zM446,526h1v1h-1zM437,518h1v1h-1zM437,519h1v1h-1zM437,520h1v1h-1zM444,526h1v1h-1zM444,527h1v1h-1zM444,528h1v1h-1zM457,520h1v1h-1zM447,519h1v1h-1zM454,530h1v1h-1zM450,515h1v1h-1zM455,532h1v1h-1zM455,528h1v1h-1zM452,531h1v1h-1zM453,531h1v1h-1zM443,525h1v1h-1zM444,525h1v1h-1zM436,517h1v1h-1zM436,518h1v1h-1zM456,519h1v1h-1zM455,529h1v1h-1zM461,525h1v1h-1zM461,526h1v1h-1zM461,531h1v1h-1z" fill="#D3D3D3" shape-rendering="crispEdges"/>
<path d="M454,492h1v1h-1zM454,493h1v1h-1zM463,516h1v1h-1zM462,517h1v1h-1zM455,497h1v1h-1zM456,497h1v1h-1zM462,512h1v1h-1zM459,511h1v1h-1zM460,511h1v1h-1zM449,485h1v1h-1zM449,486h1v1h-1zM449,488h1v1h-1zM449,489h1v1h-1zM455,490h1v1h-1zM455,491h1v1h-1zM450,487h1v1h-1zM451,487h1v1h-1zM462,519h1v1h-1zM463,521h1v1h-1zM463,522h1v1h-1zM459,506h1v1h-1zM457,502h1v1h-1zM460,517h1v1h-1zM460,518h1v1h-1zM453,495h1v1h-1zM457,507h1v1h-1zM456,508h1v1h-1zM454,490h1v1h-1zM462,520h1v1h-1zM461,509h1v1h-1zM450,488h1v1h-1zM451,488h1v1h-1zM455,494h1v1h-1zM456,502h1v1h-1zM456,494h1v1h-1zM455,495h1v1h-1zM460,504h1v1h-1zM450,485h1v1h-1zM455,492h1v1h-1zM455,493h1v1h-1z" fill="#D3D3D3" shape-rendering="crispEdges"/>
</g>
</g>
<g id="axes">
<rect x="129.5" y="162.45" width="710.45" height="698.0" fill="none" stroke="#000" stroke-width="1"/>
<line x1="112.5" y1="177.5" x2="129.5" y2="177.5" stroke="#000" stroke-width="1"/>
<text x="97.6" y="185.40" text-anchor="end" font-size="22.7">45°N</text>
<line x1="112.5" y1="271.13" x2="129.5" y2="271.13" stroke="#000" stroke-width="1"/>
<text x="97.6" y="279.03" text-anchor="end" font-size="22.7">40°N</text>
<line x1="112.5" y1="364.76" x2="129.5" y2="364.76" stroke="#000" stroke-width="1"/>
<text x="97.6" y="372.66" text-anchor="end" font-size="22.7">35°N</text>
<line x1="112.5" y1="458.39" x2="129.5" y2="458.39" stroke="#000" stroke-width="1"/>
<text x="97.6" y="466.29" text-anchor="end" font-size="22.7">30°N</text>
<line x1="112.5" y1="552.01" x2="129.5" y2="552.01" stroke="#000" stroke-width="1"/>
<text x="97.6" y="559.91" text-anchor="end" font-size="22.7">25°N</text>
<line x1="112.5" y1="645.64" x2="129.5" y2="645.64" stroke="#000" stroke-width="1"/>
<text x="97.6" y="653.54" text-anchor="end" font-size="22.7">20°N</text>
<line x1="112.5" y1="739.27" x2="129.5" y2="739.27" stroke="#000" stroke-width="1"/>
<text x="97.6" y="747.17" text-anchor="end" font-size="22.7">15°N</text>
<line x1="112.5" y1="832.9" x2="129.5" y2="832.9" stroke="#000" stroke-width="1"/>
<text x="97.6" y="840.80" text-anchor="end" font-size="22.7">10°N</text>
<line x1="185.5" y1="860.45" x2="185.5" y2="876.95" stroke="#000" stroke-width="1"/>
<text x="185.2" y="910" text-anchor="middle" font-size="22.7">95°W</text>
<line x1="279.1" y1="860.45" x2="279.1" y2="876.95" stroke="#000" stroke-width="1"/>
<text x="278.8" y="910" text-anchor="middle" font-size="22.7">90°W</text>
<line x1="372.8" y1="860.45" x2="372.8" y2="876.95" stroke="#000" stroke-width="1"/>
<text x="372.5" y="910" text-anchor="middle" font-size="22.7">85°W</text>
<line x1="466.4" y1="860.45" x2="466.4" y2="876.95" stroke="#000" stroke-width="1"/>
<text x="466.09999999999997" y="910" text-anchor="middle" font-size="22.7">80°W</text>
<line x1="560.0" y1="860.45" x2="560.0" y2="876.95" stroke="#000" stroke-width="1"/>
<text x="559.7" y="910" text-anchor="middle" font-size="22.7">75°W</text>
<line x1="653.7" y1="860.45" x2="653.7" y2="876.95" stroke="#000" stroke-width="1"/>
<text x="653.4000000000001" y="910" text-anchor="middle" font-size="22.7">70°W</text>
<line x1="747.3" y1="860.45" x2="747.3" y2="876.95" stroke="#000" stroke-width="1"/>
<text x="747.0" y="910" text-anchor="middle" font-size="22.7">65°W</text>
<text x="484.6" y="945" text-anchor="middle" font-size="22.8">Longitude</text>
<text transform="translate(41,511.2) rotate(-90)" text-anchor="middle" font-size="22.8">Latitude</text>
<text x="163.6" y="133.5" font-size="25.5">2021031512</text>
<text x="656.8" y="128.5" font-size="25.5">Elevation (m)</text>
<rect x="878.5" y="821.93" width="42.40" height="31.09" fill="#0000AA" stroke="#000" stroke-width="0.6"/>
<rect x="878.5" y="790.85" width="42.40" height="31.09" fill="#0000D5" stroke="#000" stroke-width="0.6"/>
<rect x="878.5" y="759.76" width="42.40" height="31.09" fill="#0008FF" stroke="#000" stroke-width="0.6"/>
<rect x="878.5" y="728.68" width="42.40" height="31.09" fill="#0038FF" stroke="#000" stroke-width="0.6"/>
<rect x="878.5" y="697.60" width="42.40" height="31.09" fill="#0068FF" stroke="#000" stroke-width="0.6"/>
<rect x="878.5" y="666.51" width="42.40" height="31.09" fill="#0098FF" stroke="#000" stroke-width="0.6"/>
<rect x="878.5" y="635.43" width="42.40" height="31.09" fill="#00C8FF" stroke="#000" stroke-width="0.6"/>
<rect x="878.5" y="604.34" width="42.40" height="31.09" fill="#00FFFF" stroke="#000" stroke-width="0.6"/>
<rect x="878.5" y="573.25" width="42.40" height="31.09" fill="#2AFFD5" stroke="#000" stroke-width="0.6"/>
<rect x="878.5" y="542.17" width="42.40" height="31.09" fill="#55FFAA" stroke="#000" stroke-width="0.6"/>
<rect x="878.5" y="511.09" width="42.40" height="31.09" fill="#80FF80" stroke="#000" stroke-width="0.6"/>
<rect x="878.5" y="480.00" width="42.40" height="31.09" fill="#AAFF55" stroke="#000" stroke-width="0.6"/>
<rect x="878.5" y="448.91" width="42.40" height="31.09" fill="#D5FF2A" stroke="#000" stroke-width="0.6"/>
<rect x="878.5" y="417.83" width="42.40" height="31.09" fill="#FFFF00" stroke="#000" stroke-width="0.6"/>
<rect x="878.5" y="386.75" width="42.40" height="31.09" fill="#FFCC00" stroke="#000" stroke-width="0.6"/>
<rect x="878.5" y="355.66" width="42.40" height="31.09" fill="#FF9F00" stroke="#000" stroke-width="0.6"/>
<rect x="878.5" y="324.58" width="42.40" height="31.09" fill="#FF7300" stroke="#000" stroke-width="0.6"/>
<rect x="878.5" y="293.49" width="42.40" height="31.09" fill="#FF4500" stroke="#000" stroke-width="0.6"/>
<rect x="878.5" y="262.40" width="42.40" height="31.09" fill="#FF1400" stroke="#000" stroke-width="0.6"/>
<rect x="878.5" y="231.32" width="42.40" height="31.09" fill="#E60000" stroke="#000" stroke-width="0.6"/>
<rect x="878.5" y="200.24" width="42.40" height="31.09" fill="#B90000" stroke="#000" stroke-width="0.6"/>
<rect x="878.5" y="169.15" width="42.40" height="31.09" fill="#8B0000" stroke="#000" stroke-width="0.6"/>
<text x="960.2" y="210.80" text-anchor="middle" font-size="30.6">2</text>
<text x="960.2" y="272.97" text-anchor="middle" font-size="30.6">1.6</text>
<text x="960.2" y="335.14" text-anchor="middle" font-size="30.6">1.2</text>
<text x="960.2" y="397.31" text-anchor="middle" font-size="30.6">0.8</text>
<text x="960.2" y="459.48" text-anchor="middle" font-size="30.6">0.4</text>
<text x="960.2" y="521.65" text-anchor="middle" font-size="30.6">0</text>
<text x="960.2" y="583.82" text-anchor="middle" font-size="30.6">-0.4</text>
<text x="960.2" y="645.99" text-anchor="middle" font-size="30.6">-0.8</text>
<text x="960.2" y="708.16" text-anchor="middle" font-size="30.6">-1.2</text>
<text x="960.2" y="770.33" text-anchor="middle" font-size="30.6">-1.6</text>
<text x="960.2" y="832.50" text-anchor="middle" font-size="30.6">-2</text>
</g>
</svg>
</body></html>
